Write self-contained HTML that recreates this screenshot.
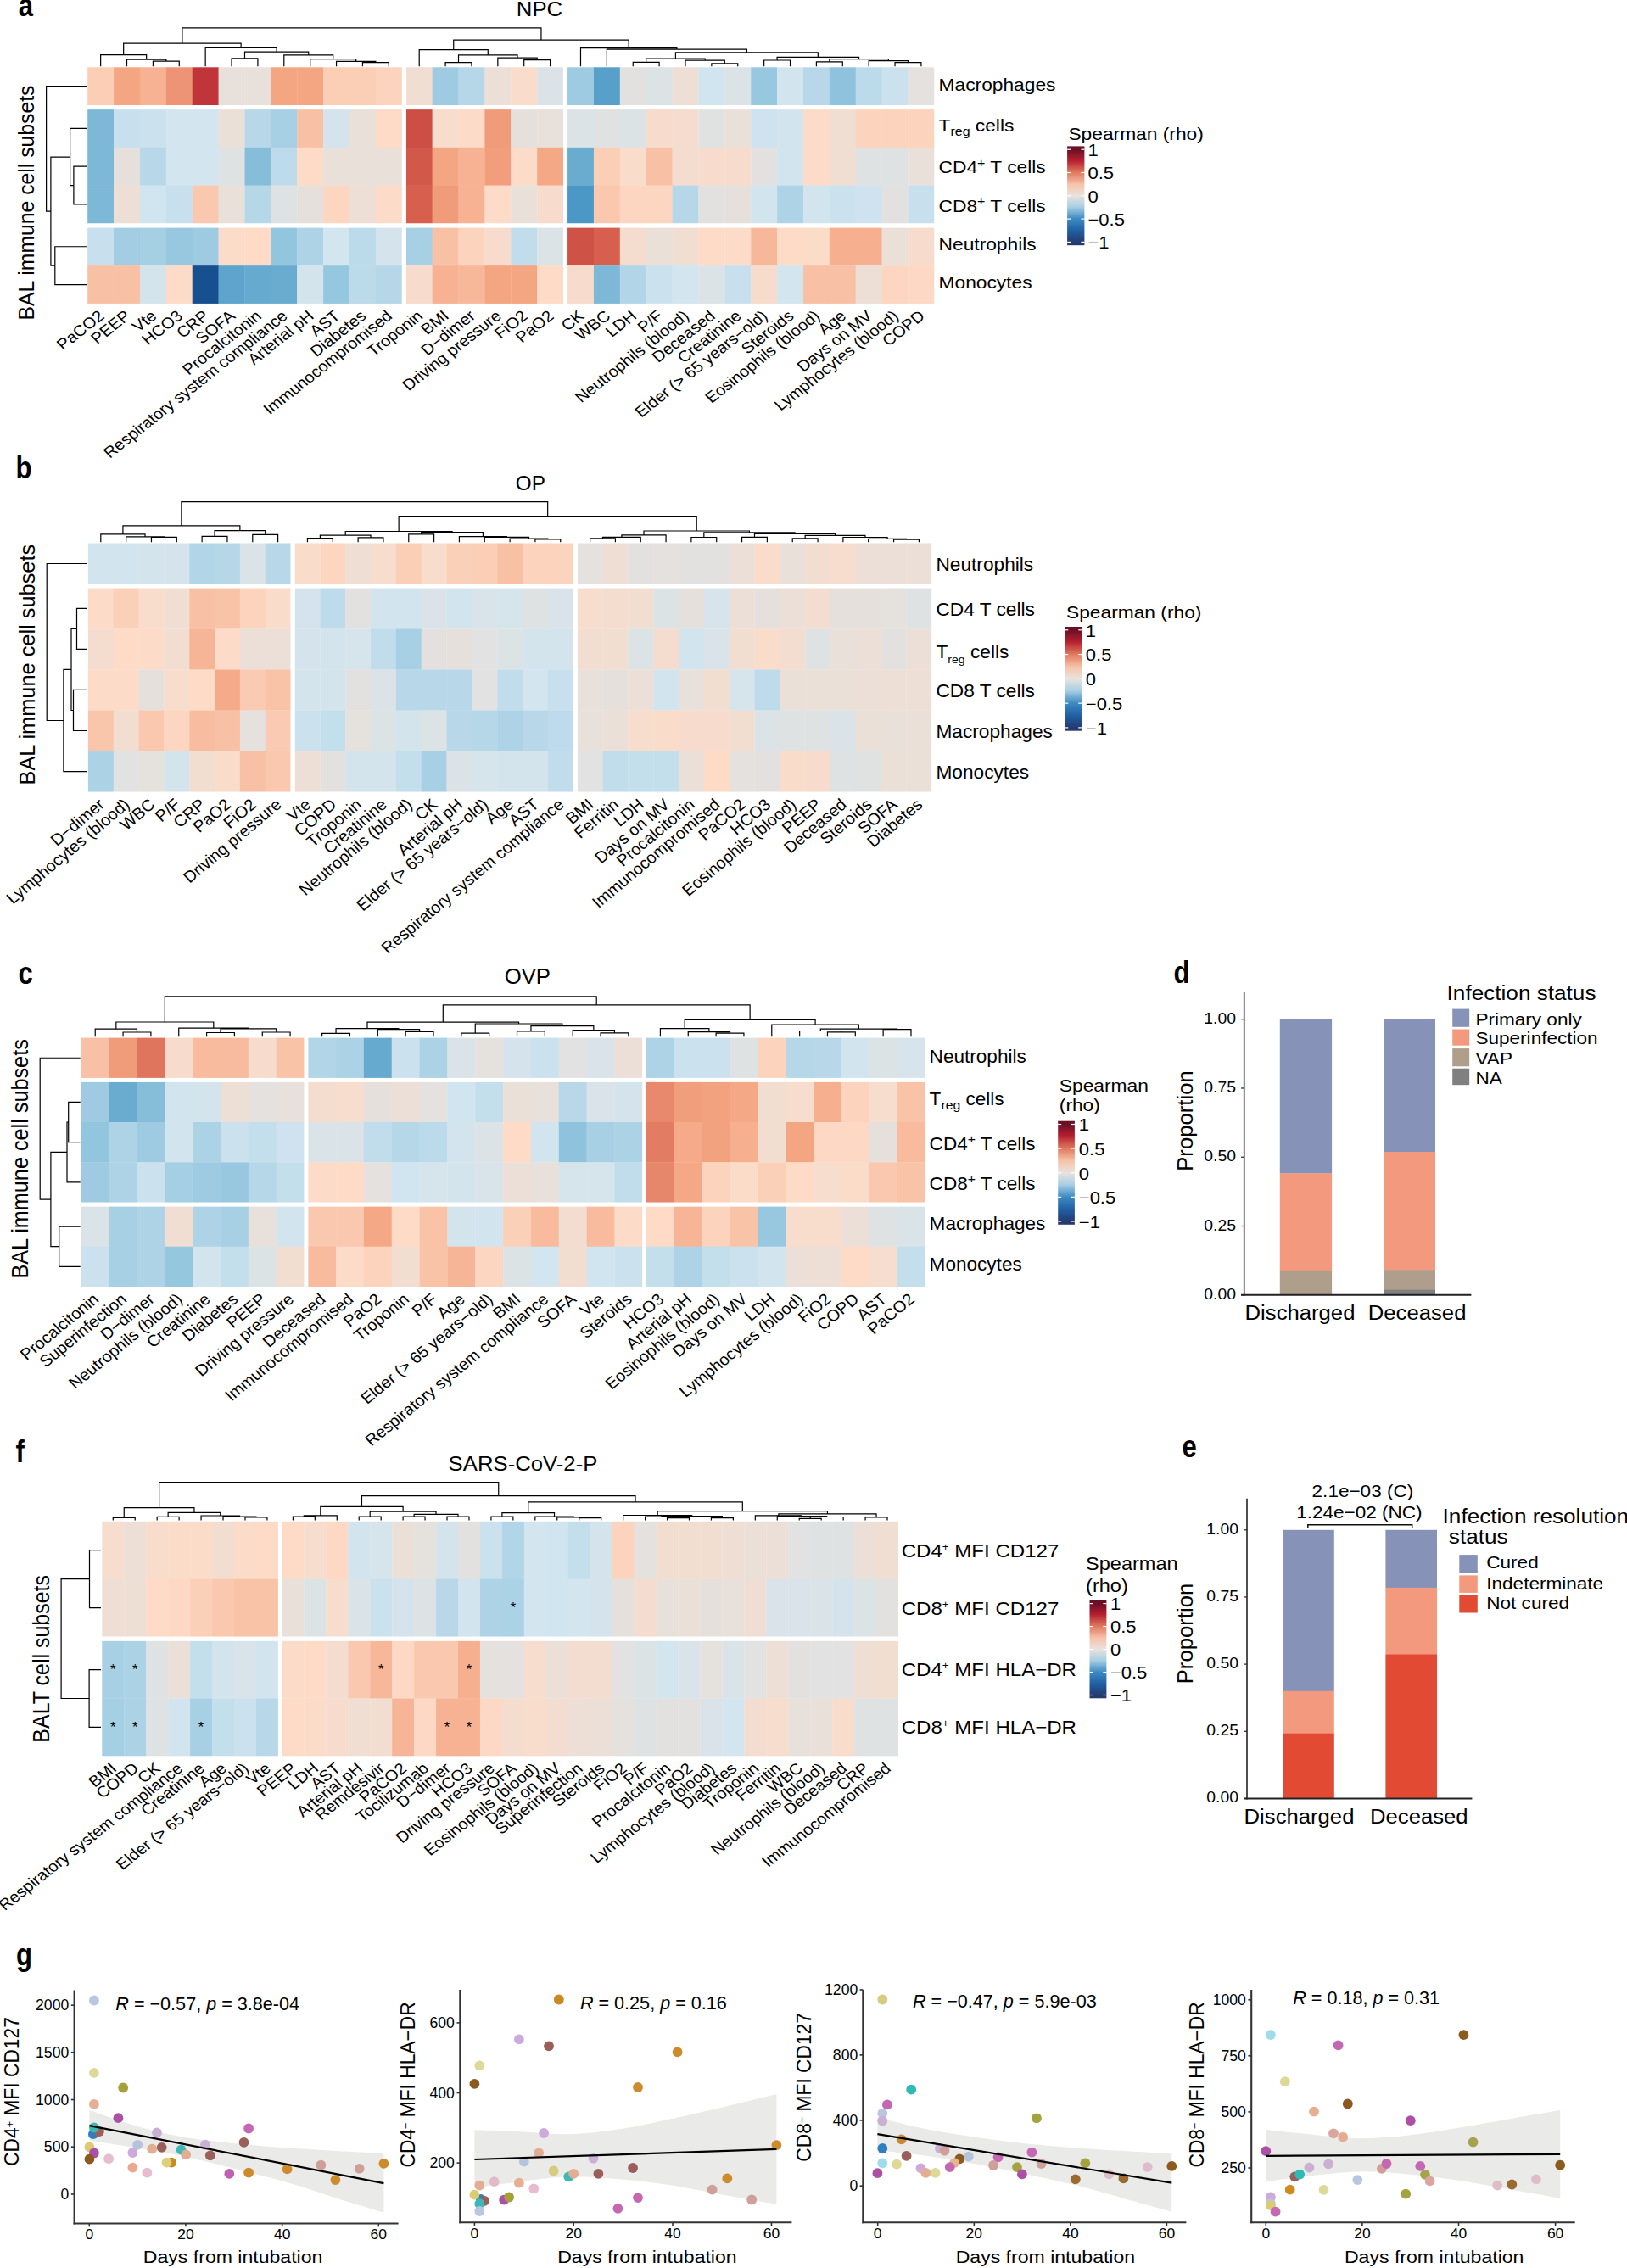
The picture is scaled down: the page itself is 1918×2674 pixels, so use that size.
<!DOCTYPE html>
<html><head><meta charset="utf-8"><title>Figure</title>
<style>html,body{margin:0;padding:0;background:#fff}svg{display:block}text{font-family:"Liberation Sans", Arial, Helvetica, sans-serif;}</style></head>
<body>
<svg width="1918" height="2674" viewBox="0 0 1918 2674" shape-rendering="auto">
<rect width="1918" height="2674" fill="#fff"/>
<rect x="103.2" y="79.3" width="31.18" height="45.07" fill="#FBCEB6"/>
<rect x="134.08" y="79.3" width="31.18" height="45.07" fill="#F4A582"/>
<rect x="164.96" y="79.3" width="31.18" height="45.07" fill="#F6B293"/>
<rect x="195.84" y="79.3" width="31.18" height="45.07" fill="#EC9475"/>
<rect x="226.72" y="79.3" width="31.18" height="45.07" fill="#C03539"/>
<rect x="257.6" y="79.3" width="31.18" height="45.07" fill="#E8E0DB"/>
<rect x="288.48" y="79.3" width="31.18" height="45.07" fill="#E8E0DB"/>
<rect x="319.36" y="79.3" width="31.18" height="45.07" fill="#F4A582"/>
<rect x="350.24" y="79.3" width="31.18" height="45.07" fill="#F4A582"/>
<rect x="381.12" y="79.3" width="31.18" height="45.07" fill="#FBCEB6"/>
<rect x="412" y="79.3" width="31.18" height="45.07" fill="#FBCEB6"/>
<rect x="442.88" y="79.3" width="31.18" height="45.07" fill="#FCD3BD"/>
<rect x="478.76" y="79.3" width="31.18" height="45.07" fill="#F0DED2"/>
<rect x="509.64" y="79.3" width="31.18" height="45.07" fill="#9FCBE2"/>
<rect x="540.52" y="79.3" width="31.18" height="45.07" fill="#B5D7E8"/>
<rect x="571.4" y="79.3" width="31.18" height="45.07" fill="#ECDFD7"/>
<rect x="602.28" y="79.3" width="31.18" height="45.07" fill="#F9DCCA"/>
<rect x="633.16" y="79.3" width="31.18" height="45.07" fill="#DBE3E6"/>
<rect x="669.04" y="79.3" width="31.18" height="45.07" fill="#9FCBE2"/>
<rect x="699.92" y="79.3" width="31.18" height="45.07" fill="#57A0CA"/>
<rect x="730.8" y="79.3" width="31.18" height="45.07" fill="#E3E1DF"/>
<rect x="761.68" y="79.3" width="31.18" height="45.07" fill="#DCE3E5"/>
<rect x="792.56" y="79.3" width="31.18" height="45.07" fill="#EDDFD6"/>
<rect x="823.44" y="79.3" width="31.18" height="45.07" fill="#D1E5F0"/>
<rect x="854.32" y="79.3" width="31.18" height="45.07" fill="#DBE3E6"/>
<rect x="885.2" y="79.3" width="31.18" height="45.07" fill="#98C8E0"/>
<rect x="916.08" y="79.3" width="31.18" height="45.07" fill="#D2E5EF"/>
<rect x="946.96" y="79.3" width="31.18" height="45.07" fill="#B8D8E9"/>
<rect x="977.84" y="79.3" width="31.18" height="45.07" fill="#8EC2DD"/>
<rect x="1008.72" y="79.3" width="31.18" height="45.07" fill="#BBDAEA"/>
<rect x="1039.6" y="79.3" width="31.18" height="45.07" fill="#CBE2EE"/>
<rect x="1070.48" y="79.3" width="31.18" height="45.07" fill="#E4E1DE"/>
<rect x="103.2" y="129.07" width="31.18" height="45.07" fill="#7EB8D7"/>
<rect x="134.08" y="129.07" width="31.18" height="45.07" fill="#C8E0ED"/>
<rect x="164.96" y="129.07" width="31.18" height="45.07" fill="#CBE2EE"/>
<rect x="195.84" y="129.07" width="31.18" height="45.07" fill="#D3E5EE"/>
<rect x="226.72" y="129.07" width="31.18" height="45.07" fill="#D3E5EE"/>
<rect x="257.6" y="129.07" width="31.18" height="45.07" fill="#EAE0D8"/>
<rect x="288.48" y="129.07" width="31.18" height="45.07" fill="#B8D8E9"/>
<rect x="319.36" y="129.07" width="31.18" height="45.07" fill="#A8D0E4"/>
<rect x="350.24" y="129.07" width="31.18" height="45.07" fill="#F8C0A4"/>
<rect x="381.12" y="129.07" width="31.18" height="45.07" fill="#D5E4EC"/>
<rect x="412" y="129.07" width="31.18" height="45.07" fill="#E9E0D9"/>
<rect x="442.88" y="129.07" width="31.18" height="45.07" fill="#FDDBC7"/>
<rect x="478.76" y="129.07" width="31.18" height="45.07" fill="#CD4E44"/>
<rect x="509.64" y="129.07" width="31.18" height="45.07" fill="#F6DDCE"/>
<rect x="540.52" y="129.07" width="31.18" height="45.07" fill="#FCDBC8"/>
<rect x="571.4" y="129.07" width="31.18" height="45.07" fill="#F09B7A"/>
<rect x="602.28" y="129.07" width="31.18" height="45.07" fill="#E6E0DC"/>
<rect x="633.16" y="129.07" width="31.18" height="45.07" fill="#E8E0DB"/>
<rect x="669.04" y="129.07" width="31.18" height="45.07" fill="#DBE3E6"/>
<rect x="699.92" y="129.07" width="31.18" height="45.07" fill="#E0E2E2"/>
<rect x="730.8" y="129.07" width="31.18" height="45.07" fill="#DCE3E5"/>
<rect x="761.68" y="129.07" width="31.18" height="45.07" fill="#F7DCCD"/>
<rect x="792.56" y="129.07" width="31.18" height="45.07" fill="#F4DDCF"/>
<rect x="823.44" y="129.07" width="31.18" height="45.07" fill="#E0E2E2"/>
<rect x="854.32" y="129.07" width="31.18" height="45.07" fill="#E9E0D9"/>
<rect x="885.2" y="129.07" width="31.18" height="45.07" fill="#CEE3EF"/>
<rect x="916.08" y="129.07" width="31.18" height="45.07" fill="#D2E5EF"/>
<rect x="946.96" y="129.07" width="31.18" height="45.07" fill="#FCDBC8"/>
<rect x="977.84" y="129.07" width="31.18" height="45.07" fill="#F0DED2"/>
<rect x="1008.72" y="129.07" width="31.18" height="45.07" fill="#FCD3BD"/>
<rect x="1039.6" y="129.07" width="31.18" height="45.07" fill="#FCD3BD"/>
<rect x="1070.48" y="129.07" width="31.18" height="45.07" fill="#FCD3BD"/>
<rect x="103.2" y="173.84" width="31.18" height="45.07" fill="#7EB8D7"/>
<rect x="134.08" y="173.84" width="31.18" height="45.07" fill="#E6E0DC"/>
<rect x="164.96" y="173.84" width="31.18" height="45.07" fill="#B8D8E9"/>
<rect x="195.84" y="173.84" width="31.18" height="45.07" fill="#D3E5EE"/>
<rect x="226.72" y="173.84" width="31.18" height="45.07" fill="#D3E5EE"/>
<rect x="257.6" y="173.84" width="31.18" height="45.07" fill="#DFE2E2"/>
<rect x="288.48" y="173.84" width="31.18" height="45.07" fill="#86BEDA"/>
<rect x="319.36" y="173.84" width="31.18" height="45.07" fill="#BEDBEB"/>
<rect x="350.24" y="173.84" width="31.18" height="45.07" fill="#FDDBC7"/>
<rect x="381.12" y="173.84" width="31.18" height="45.07" fill="#E9E0D9"/>
<rect x="412" y="173.84" width="31.18" height="45.07" fill="#E9E0D9"/>
<rect x="442.88" y="173.84" width="31.18" height="45.07" fill="#E9E0D9"/>
<rect x="478.76" y="173.84" width="31.18" height="45.07" fill="#D2594A"/>
<rect x="509.64" y="173.84" width="31.18" height="45.07" fill="#F4A582"/>
<rect x="540.52" y="173.84" width="31.18" height="45.07" fill="#F6B293"/>
<rect x="571.4" y="173.84" width="31.18" height="45.07" fill="#F19E7D"/>
<rect x="602.28" y="173.84" width="31.18" height="45.07" fill="#FCDBC8"/>
<rect x="633.16" y="173.84" width="31.18" height="45.07" fill="#F4A885"/>
<rect x="669.04" y="173.84" width="31.18" height="45.07" fill="#6AACD0"/>
<rect x="699.92" y="173.84" width="31.18" height="45.07" fill="#FBCEB6"/>
<rect x="730.8" y="173.84" width="31.18" height="45.07" fill="#F9DCCA"/>
<rect x="761.68" y="173.84" width="31.18" height="45.07" fill="#F8C0A4"/>
<rect x="792.56" y="173.84" width="31.18" height="45.07" fill="#F4DDCF"/>
<rect x="823.44" y="173.84" width="31.18" height="45.07" fill="#F7DCCD"/>
<rect x="854.32" y="173.84" width="31.18" height="45.07" fill="#F7DCCD"/>
<rect x="885.2" y="173.84" width="31.18" height="45.07" fill="#E3E1DF"/>
<rect x="916.08" y="173.84" width="31.18" height="45.07" fill="#D2E5EF"/>
<rect x="946.96" y="173.84" width="31.18" height="45.07" fill="#FCDBC8"/>
<rect x="977.84" y="173.84" width="31.18" height="45.07" fill="#F0DED2"/>
<rect x="1008.72" y="173.84" width="31.18" height="45.07" fill="#DFE2E2"/>
<rect x="1039.6" y="173.84" width="31.18" height="45.07" fill="#DFE2E2"/>
<rect x="1070.48" y="173.84" width="31.18" height="45.07" fill="#E9E0D9"/>
<rect x="103.2" y="218.61" width="31.18" height="45.07" fill="#7EB8D7"/>
<rect x="134.08" y="218.61" width="31.18" height="45.07" fill="#EDDFD6"/>
<rect x="164.96" y="218.61" width="31.18" height="45.07" fill="#D1E5F0"/>
<rect x="195.84" y="218.61" width="31.18" height="45.07" fill="#C8E0ED"/>
<rect x="226.72" y="218.61" width="31.18" height="45.07" fill="#FAC8AF"/>
<rect x="257.6" y="218.61" width="31.18" height="45.07" fill="#E9E0D9"/>
<rect x="288.48" y="218.61" width="31.18" height="45.07" fill="#B5D7E8"/>
<rect x="319.36" y="218.61" width="31.18" height="45.07" fill="#DEE2E3"/>
<rect x="350.24" y="218.61" width="31.18" height="45.07" fill="#E6E0DC"/>
<rect x="381.12" y="218.61" width="31.18" height="45.07" fill="#FCD6C0"/>
<rect x="412" y="218.61" width="31.18" height="45.07" fill="#EDDFD6"/>
<rect x="442.88" y="218.61" width="31.18" height="45.07" fill="#FCDBC8"/>
<rect x="478.76" y="218.61" width="31.18" height="45.07" fill="#D6604D"/>
<rect x="509.64" y="218.61" width="31.18" height="45.07" fill="#F09B7A"/>
<rect x="540.52" y="218.61" width="31.18" height="45.07" fill="#F6B293"/>
<rect x="571.4" y="218.61" width="31.18" height="45.07" fill="#FCDBC8"/>
<rect x="602.28" y="218.61" width="31.18" height="45.07" fill="#E9E0D9"/>
<rect x="633.16" y="218.61" width="31.18" height="45.07" fill="#F7DCCD"/>
<rect x="669.04" y="218.61" width="31.18" height="45.07" fill="#4B98C6"/>
<rect x="699.92" y="218.61" width="31.18" height="45.07" fill="#FAC8AF"/>
<rect x="730.8" y="218.61" width="31.18" height="45.07" fill="#FCD6C0"/>
<rect x="761.68" y="218.61" width="31.18" height="45.07" fill="#FCD6C0"/>
<rect x="792.56" y="218.61" width="31.18" height="45.07" fill="#B5D7E8"/>
<rect x="823.44" y="218.61" width="31.18" height="45.07" fill="#E3E1DF"/>
<rect x="854.32" y="218.61" width="31.18" height="45.07" fill="#E6E0DC"/>
<rect x="885.2" y="218.61" width="31.18" height="45.07" fill="#D2E5EF"/>
<rect x="916.08" y="218.61" width="31.18" height="45.07" fill="#AED3E6"/>
<rect x="946.96" y="218.61" width="31.18" height="45.07" fill="#D2E5EF"/>
<rect x="977.84" y="218.61" width="31.18" height="45.07" fill="#CBE2EE"/>
<rect x="1008.72" y="218.61" width="31.18" height="45.07" fill="#CEE3EF"/>
<rect x="1039.6" y="218.61" width="31.18" height="45.07" fill="#E3E1DF"/>
<rect x="1070.48" y="218.61" width="31.18" height="45.07" fill="#C8E0ED"/>
<rect x="103.2" y="268.38" width="31.18" height="45.07" fill="#C8E0ED"/>
<rect x="134.08" y="268.38" width="31.18" height="45.07" fill="#A2CDE2"/>
<rect x="164.96" y="268.38" width="31.18" height="45.07" fill="#A5CFE3"/>
<rect x="195.84" y="268.38" width="31.18" height="45.07" fill="#98C8E0"/>
<rect x="226.72" y="268.38" width="31.18" height="45.07" fill="#9FCBE2"/>
<rect x="257.6" y="268.38" width="31.18" height="45.07" fill="#FADCC9"/>
<rect x="288.48" y="268.38" width="31.18" height="45.07" fill="#FDDBC7"/>
<rect x="319.36" y="268.38" width="31.18" height="45.07" fill="#92C5DE"/>
<rect x="350.24" y="268.38" width="31.18" height="45.07" fill="#AED3E6"/>
<rect x="381.12" y="268.38" width="31.18" height="45.07" fill="#D3E5EE"/>
<rect x="412" y="268.38" width="31.18" height="45.07" fill="#BBDAEA"/>
<rect x="442.88" y="268.38" width="31.18" height="45.07" fill="#D5E4EC"/>
<rect x="478.76" y="268.38" width="31.18" height="45.07" fill="#A8D0E4"/>
<rect x="509.64" y="268.38" width="31.18" height="45.07" fill="#F8C0A4"/>
<rect x="540.52" y="268.38" width="31.18" height="45.07" fill="#FCD3BD"/>
<rect x="571.4" y="268.38" width="31.18" height="45.07" fill="#F7DCCD"/>
<rect x="602.28" y="268.38" width="31.18" height="45.07" fill="#C1DDEC"/>
<rect x="633.16" y="268.38" width="31.18" height="45.07" fill="#DBE3E6"/>
<rect x="669.04" y="268.38" width="31.18" height="45.07" fill="#CF5246"/>
<rect x="699.92" y="268.38" width="31.18" height="45.07" fill="#D6604D"/>
<rect x="730.8" y="268.38" width="31.18" height="45.07" fill="#F4DDCF"/>
<rect x="761.68" y="268.38" width="31.18" height="45.07" fill="#EAE0D8"/>
<rect x="792.56" y="268.38" width="31.18" height="45.07" fill="#F0DED2"/>
<rect x="823.44" y="268.38" width="31.18" height="45.07" fill="#FDDBC7"/>
<rect x="854.32" y="268.38" width="31.18" height="45.07" fill="#FCDBC8"/>
<rect x="885.2" y="268.38" width="31.18" height="45.07" fill="#F7B89A"/>
<rect x="916.08" y="268.38" width="31.18" height="45.07" fill="#FDDBC7"/>
<rect x="946.96" y="268.38" width="31.18" height="45.07" fill="#FADCC9"/>
<rect x="977.84" y="268.38" width="31.18" height="45.07" fill="#F6B090"/>
<rect x="1008.72" y="268.38" width="31.18" height="45.07" fill="#F6B090"/>
<rect x="1039.6" y="268.38" width="31.18" height="45.07" fill="#EAE0D8"/>
<rect x="1070.48" y="268.38" width="31.18" height="45.07" fill="#F7DCCD"/>
<rect x="103.2" y="313.15" width="31.18" height="45.07" fill="#F8C0A4"/>
<rect x="134.08" y="313.15" width="31.18" height="45.07" fill="#F8C0A4"/>
<rect x="164.96" y="313.15" width="31.18" height="45.07" fill="#D4E4ED"/>
<rect x="195.84" y="313.15" width="31.18" height="45.07" fill="#FCDBC8"/>
<rect x="226.72" y="313.15" width="31.18" height="45.07" fill="#16508E"/>
<rect x="257.6" y="313.15" width="31.18" height="45.07" fill="#5FA4CC"/>
<rect x="288.48" y="313.15" width="31.18" height="45.07" fill="#67AACF"/>
<rect x="319.36" y="313.15" width="31.18" height="45.07" fill="#6AACD0"/>
<rect x="350.24" y="313.15" width="31.18" height="45.07" fill="#D4E4ED"/>
<rect x="381.12" y="313.15" width="31.18" height="45.07" fill="#95C7DF"/>
<rect x="412" y="313.15" width="31.18" height="45.07" fill="#BBDAEA"/>
<rect x="442.88" y="313.15" width="31.18" height="45.07" fill="#B5D7E8"/>
<rect x="478.76" y="313.15" width="31.18" height="45.07" fill="#F7DCCD"/>
<rect x="509.64" y="313.15" width="31.18" height="45.07" fill="#F6B293"/>
<rect x="540.52" y="313.15" width="31.18" height="45.07" fill="#F7B89A"/>
<rect x="571.4" y="313.15" width="31.18" height="45.07" fill="#F4A582"/>
<rect x="602.28" y="313.15" width="31.18" height="45.07" fill="#F4A582"/>
<rect x="633.16" y="313.15" width="31.18" height="45.07" fill="#FDDBC7"/>
<rect x="669.04" y="313.15" width="31.18" height="45.07" fill="#F7DCCD"/>
<rect x="699.92" y="313.15" width="31.18" height="45.07" fill="#7EB8D7"/>
<rect x="730.8" y="313.15" width="31.18" height="45.07" fill="#B2D5E7"/>
<rect x="761.68" y="313.15" width="31.18" height="45.07" fill="#CBE2EE"/>
<rect x="792.56" y="313.15" width="31.18" height="45.07" fill="#D3E5EE"/>
<rect x="823.44" y="313.15" width="31.18" height="45.07" fill="#DBE3E6"/>
<rect x="854.32" y="313.15" width="31.18" height="45.07" fill="#C8E0ED"/>
<rect x="885.2" y="313.15" width="31.18" height="45.07" fill="#F7DCCD"/>
<rect x="916.08" y="313.15" width="31.18" height="45.07" fill="#D3E5EE"/>
<rect x="946.96" y="313.15" width="31.18" height="45.07" fill="#F8C0A4"/>
<rect x="977.84" y="313.15" width="31.18" height="45.07" fill="#F8C0A4"/>
<rect x="1008.72" y="313.15" width="31.18" height="45.07" fill="#EDDFD6"/>
<rect x="1039.6" y="313.15" width="31.18" height="45.07" fill="#FCD6C0"/>
<rect x="1070.48" y="313.15" width="31.18" height="45.07" fill="#FDD8C4"/>
<rect x="473.76" y="78.3" width="5" height="280.62" fill="#fff"/>
<rect x="664.04" y="78.3" width="5" height="280.62" fill="#fff"/>
<rect x="102.2" y="124.07" width="1000.16" height="5" fill="#fff"/>
<rect x="102.2" y="263.38" width="1000.16" height="5" fill="#fff"/>
<rect x="1101.36" y="78.3" width="2" height="280.62" fill="#fff"/>
<rect x="102.2" y="357.92" width="1001.16" height="2" fill="#fff"/>
<path d="M180.4 77.6V72.2H211.28V77.6M149.52 77.6V70.2H195.84V72.2M118.64 77.6V64.6H172.68V70.2M273.04 77.6V68.8H303.92V77.6M427.44 77.6V73.7H458.32V77.6M396.56 77.6V72.4H442.88V73.7M365.68 77.6V69.7H419.72V72.4M334.8 77.6V64.8H392.7V69.7M288.48 68.8V61.1H363.75V64.8M242.16 77.6V56.5H326.12V61.1M145.66 64.6V51.1H284.14V56.5M525.08 77.6V73.7H555.96V77.6M617.72 77.6V70.7H648.6V77.6M586.84 77.6V68.2H633.16V70.7M540.52 73.7V64.8H610V68.2M494.2 77.6V58.7H575.26V64.8M746.24 77.6V73.4H777.12V77.6M838.88 77.6V74.9H869.76V77.6M808 77.6V71.2H854.32V74.9M761.68 73.4V69.2H831.16V71.2M900.64 77.6V71H931.52V77.6M962.4 77.6V72.9H993.28V77.6M1055.04 77.6V73.7H1085.92V77.6M1024.16 77.6V71.7H1070.48V73.7M977.84 72.9V69.7H1047.32V71.7M916.08 71V67.3H1012.58V69.7M796.42 69.2V61.9H964.33V67.3M715.36 77.6V58.2H880.38V61.9M684.48 77.6V56.7H797.87V58.2M534.73 58.7V47.1H741.17V56.7M214.9 51.1V32.9H637.95V47.1" stroke="#000" stroke-width="1.2" fill="none" stroke-linejoin="miter" stroke-linecap="square"/>
<path d="M101.5 196.22H86.9V241H101.5M101.5 151.45H82.6V218.61H86.9M101.5 290.76H64.8V335.53H101.5M82.6 185.03H59.9V313.15H64.8M101.5 101.69H54.6V249.09H59.9" stroke="#000" stroke-width="1.2" fill="none" stroke-linejoin="miter" stroke-linecap="square"/>
<text transform="translate(124.14,374.22) scale(1.1,1) rotate(-41)" font-size="18.3" text-anchor="end">PaCO2</text>
<text transform="translate(155.02,374.22) scale(1.1,1) rotate(-41)" font-size="18.3" text-anchor="end">PEEP</text>
<text transform="translate(185.9,374.22) scale(1.1,1) rotate(-41)" font-size="18.3" text-anchor="end">Vte</text>
<text transform="translate(216.78,374.22) scale(1.1,1) rotate(-41)" font-size="18.3" text-anchor="end">HCO3</text>
<text transform="translate(247.66,374.22) scale(1.1,1) rotate(-41)" font-size="18.3" text-anchor="end">CRP</text>
<text transform="translate(278.54,374.22) scale(1.1,1) rotate(-41)" font-size="18.3" text-anchor="end">SOFA</text>
<text transform="translate(309.42,374.22) scale(1.1,1) rotate(-41)" font-size="18.3" text-anchor="end">Procalcitonin</text>
<text transform="translate(340.3,374.22) scale(1.1,1) rotate(-41)" font-size="18.3" text-anchor="end">Respiratory system compliance</text>
<text transform="translate(371.18,374.22) scale(1.1,1) rotate(-41)" font-size="18.3" text-anchor="end">Arterial pH</text>
<text transform="translate(402.06,374.22) scale(1.1,1) rotate(-41)" font-size="18.3" text-anchor="end">AST</text>
<text transform="translate(432.94,374.22) scale(1.1,1) rotate(-41)" font-size="18.3" text-anchor="end">Diabetes</text>
<text transform="translate(463.82,374.22) scale(1.1,1) rotate(-41)" font-size="18.3" text-anchor="end">Immunocompromised</text>
<text transform="translate(499.7,374.22) scale(1.1,1) rotate(-41)" font-size="18.3" text-anchor="end">Troponin</text>
<text transform="translate(530.58,374.22) scale(1.1,1) rotate(-41)" font-size="18.3" text-anchor="end">BMI</text>
<text transform="translate(561.46,374.22) scale(1.1,1) rotate(-41)" font-size="18.3" text-anchor="end">D−dimer</text>
<text transform="translate(592.34,374.22) scale(1.1,1) rotate(-41)" font-size="18.3" text-anchor="end">Driving pressure</text>
<text transform="translate(623.22,374.22) scale(1.1,1) rotate(-41)" font-size="18.3" text-anchor="end">FiO2</text>
<text transform="translate(654.1,374.22) scale(1.1,1) rotate(-41)" font-size="18.3" text-anchor="end">PaO2</text>
<text transform="translate(689.98,374.22) scale(1.1,1) rotate(-41)" font-size="18.3" text-anchor="end">CK</text>
<text transform="translate(720.86,374.22) scale(1.1,1) rotate(-41)" font-size="18.3" text-anchor="end">WBC</text>
<text transform="translate(751.74,374.22) scale(1.1,1) rotate(-41)" font-size="18.3" text-anchor="end">LDH</text>
<text transform="translate(782.62,374.22) scale(1.1,1) rotate(-41)" font-size="18.3" text-anchor="end">P/F</text>
<text transform="translate(813.5,374.22) scale(1.1,1) rotate(-41)" font-size="18.3" text-anchor="end">Neutrophils (blood)</text>
<text transform="translate(844.38,374.22) scale(1.1,1) rotate(-41)" font-size="18.3" text-anchor="end">Deceased</text>
<text transform="translate(875.26,374.22) scale(1.1,1) rotate(-41)" font-size="18.3" text-anchor="end">Creatinine</text>
<text transform="translate(906.14,374.22) scale(1.1,1) rotate(-41)" font-size="18.3" text-anchor="end">Elder (&gt; 65 years−old)</text>
<text transform="translate(937.02,374.22) scale(1.1,1) rotate(-41)" font-size="18.3" text-anchor="end">Steroids</text>
<text transform="translate(967.9,374.22) scale(1.1,1) rotate(-41)" font-size="18.3" text-anchor="end">Eosinophils (blood)</text>
<text transform="translate(998.78,374.22) scale(1.1,1) rotate(-41)" font-size="18.3" text-anchor="end">Age</text>
<text transform="translate(1029.66,374.22) scale(1.1,1) rotate(-41)" font-size="18.3" text-anchor="end">Days on MV</text>
<text transform="translate(1060.54,374.22) scale(1.1,1) rotate(-41)" font-size="18.3" text-anchor="end">Lymphocytes (blood)</text>
<text transform="translate(1091.42,374.22) scale(1.1,1) rotate(-41)" font-size="18.3" text-anchor="end">COPD</text>
<text transform="translate(1106.56,107) scale(1.1,1)" font-size="20.7">Macrophages</text>
<text transform="translate(1106.56,155.2) scale(1.1,1)" font-size="20.7">T<tspan font-size="14.49" dy="5">reg</tspan><tspan dy="-5"> cells</tspan></text>
<text transform="translate(1106.56,204.4) scale(1.1,1)" font-size="20.7">CD4<tspan font-size="14.49" dy="-7.5">+</tspan><tspan dy="7.5"> T cells</tspan></text>
<text transform="translate(1106.56,249.5) scale(1.1,1)" font-size="20.7">CD8<tspan font-size="14.49" dy="-7.5">+</tspan><tspan dy="7.5"> T cells</tspan></text>
<text transform="translate(1106.56,295) scale(1.1,1)" font-size="20.7">Neutrophils</text>
<text transform="translate(1106.56,340) scale(1.1,1)" font-size="20.7">Monocytes</text>
<text transform="translate(39.6,239) scale(1.06,1) rotate(-90)" font-size="24.75" text-anchor="middle">BAL immune cell subsets</text>
<text transform="translate(1259.4,165.2) scale(1.1,1)" font-size="20.7">Spearman (rho)</text>
<defs><linearGradient id="g176" gradientUnits="userSpaceOnUse" x1="0" y1="176.2" x2="0" y2="285.4"><stop offset="0" stop-color="#6B0F25"/><stop offset="0.12" stop-color="#B5202F"/><stop offset="0.25" stop-color="#E07A60"/><stop offset="0.38" stop-color="#F7C4AB"/><stop offset="0.5" stop-color="#E8E2DE"/><stop offset="0.62" stop-color="#A9CFE4"/><stop offset="0.75" stop-color="#3C8AC2"/><stop offset="0.88" stop-color="#205EA3"/><stop offset="1" stop-color="#253B70"/></linearGradient></defs>
<rect x="1258.1" y="172.4" width="20.3" height="116.8" fill="url(#g176)"/>
<line x1="1258.1" y1="176.2" x2="1262.1" y2="176.2" stroke="#fff" stroke-width="1.2" stroke-linecap="butt"/>
<line x1="1274.4" y1="176.2" x2="1278.4" y2="176.2" stroke="#fff" stroke-width="1.2" stroke-linecap="butt"/>
<text transform="translate(1282.5,184) scale(1.1,1)" font-size="20">1</text>
<line x1="1258.1" y1="203.5" x2="1262.1" y2="203.5" stroke="#fff" stroke-width="1.2" stroke-linecap="butt"/>
<line x1="1274.4" y1="203.5" x2="1278.4" y2="203.5" stroke="#fff" stroke-width="1.2" stroke-linecap="butt"/>
<text transform="translate(1282.5,211.3) scale(1.1,1)" font-size="20">0.5</text>
<line x1="1258.1" y1="230.8" x2="1262.1" y2="230.8" stroke="#fff" stroke-width="1.2" stroke-linecap="butt"/>
<line x1="1274.4" y1="230.8" x2="1278.4" y2="230.8" stroke="#fff" stroke-width="1.2" stroke-linecap="butt"/>
<text transform="translate(1282.5,238.6) scale(1.1,1)" font-size="20">0</text>
<line x1="1258.1" y1="258.1" x2="1262.1" y2="258.1" stroke="#fff" stroke-width="1.2" stroke-linecap="butt"/>
<line x1="1274.4" y1="258.1" x2="1278.4" y2="258.1" stroke="#fff" stroke-width="1.2" stroke-linecap="butt"/>
<text transform="translate(1282.5,265.9) scale(1.1,1)" font-size="20">−0.5</text>
<line x1="1258.1" y1="285.4" x2="1262.1" y2="285.4" stroke="#fff" stroke-width="1.2" stroke-linecap="butt"/>
<line x1="1274.4" y1="285.4" x2="1278.4" y2="285.4" stroke="#fff" stroke-width="1.2" stroke-linecap="butt"/>
<text transform="translate(1282.5,293.2) scale(1.1,1)" font-size="20">−1</text>
<text transform="translate(636,19.4) scale(1.11,1)" font-size="23.2" text-anchor="middle">NPC</text>
<text transform="translate(21.7,19.3) scale(0.84,1)" font-size="37" font-weight="bold">a</text>
<rect x="103.9" y="640.5" width="30.13" height="48.35" fill="#D2E5EF"/>
<rect x="133.73" y="640.5" width="30.13" height="48.35" fill="#D2E5EF"/>
<rect x="163.56" y="640.5" width="30.13" height="48.35" fill="#D4E4ED"/>
<rect x="193.39" y="640.5" width="30.13" height="48.35" fill="#D5E4EC"/>
<rect x="223.22" y="640.5" width="30.13" height="48.35" fill="#B2D5E7"/>
<rect x="253.05" y="640.5" width="30.13" height="48.35" fill="#B5D7E8"/>
<rect x="282.88" y="640.5" width="30.13" height="48.35" fill="#DAE3E7"/>
<rect x="312.71" y="640.5" width="30.13" height="48.35" fill="#B8D8E9"/>
<rect x="347.54" y="640.5" width="30.13" height="48.35" fill="#F9DCCA"/>
<rect x="377.37" y="640.5" width="30.13" height="48.35" fill="#FCD6C0"/>
<rect x="407.2" y="640.5" width="30.13" height="48.35" fill="#EFDED4"/>
<rect x="437.03" y="640.5" width="30.13" height="48.35" fill="#F6DDCE"/>
<rect x="466.86" y="640.5" width="30.13" height="48.35" fill="#FBCEB6"/>
<rect x="496.69" y="640.5" width="30.13" height="48.35" fill="#F8DCCC"/>
<rect x="526.52" y="640.5" width="30.13" height="48.35" fill="#FBD0B9"/>
<rect x="556.35" y="640.5" width="30.13" height="48.35" fill="#FBCEB6"/>
<rect x="586.18" y="640.5" width="30.13" height="48.35" fill="#F8C0A4"/>
<rect x="616.01" y="640.5" width="30.13" height="48.35" fill="#FCD3BD"/>
<rect x="645.84" y="640.5" width="30.13" height="48.35" fill="#FCD3BD"/>
<rect x="680.67" y="640.5" width="30.13" height="48.35" fill="#E4E1DE"/>
<rect x="710.5" y="640.5" width="30.13" height="48.35" fill="#EFDED4"/>
<rect x="740.33" y="640.5" width="30.13" height="48.35" fill="#E2E1E0"/>
<rect x="770.16" y="640.5" width="30.13" height="48.35" fill="#E4E1DE"/>
<rect x="799.99" y="640.5" width="30.13" height="48.35" fill="#E2E1E0"/>
<rect x="829.82" y="640.5" width="30.13" height="48.35" fill="#E2E1E0"/>
<rect x="859.65" y="640.5" width="30.13" height="48.35" fill="#ECDFD7"/>
<rect x="889.48" y="640.5" width="30.13" height="48.35" fill="#F9DCCA"/>
<rect x="919.31" y="640.5" width="30.13" height="48.35" fill="#E9E0D9"/>
<rect x="949.14" y="640.5" width="30.13" height="48.35" fill="#F2DED1"/>
<rect x="978.97" y="640.5" width="30.13" height="48.35" fill="#F6DDCE"/>
<rect x="1008.8" y="640.5" width="30.13" height="48.35" fill="#ECDFD7"/>
<rect x="1038.63" y="640.5" width="30.13" height="48.35" fill="#ECDFD7"/>
<rect x="1068.46" y="640.5" width="30.13" height="48.35" fill="#ECDFD7"/>
<rect x="103.9" y="693.35" width="30.13" height="48.35" fill="#FCDBC8"/>
<rect x="133.73" y="693.35" width="30.13" height="48.35" fill="#FBD0B9"/>
<rect x="163.56" y="693.35" width="30.13" height="48.35" fill="#F8DCCC"/>
<rect x="193.39" y="693.35" width="30.13" height="48.35" fill="#F0DED2"/>
<rect x="223.22" y="693.35" width="30.13" height="48.35" fill="#F8C0A4"/>
<rect x="253.05" y="693.35" width="30.13" height="48.35" fill="#F9C3A8"/>
<rect x="282.88" y="693.35" width="30.13" height="48.35" fill="#FCD3BD"/>
<rect x="312.71" y="693.35" width="30.13" height="48.35" fill="#F9DCCA"/>
<rect x="347.54" y="693.35" width="30.13" height="48.35" fill="#D5E4EC"/>
<rect x="377.37" y="693.35" width="30.13" height="48.35" fill="#BEDBEB"/>
<rect x="407.2" y="693.35" width="30.13" height="48.35" fill="#E3E1DF"/>
<rect x="437.03" y="693.35" width="30.13" height="48.35" fill="#D2E5EF"/>
<rect x="466.86" y="693.35" width="30.13" height="48.35" fill="#D2E5EF"/>
<rect x="496.69" y="693.35" width="30.13" height="48.35" fill="#D9E3E9"/>
<rect x="526.52" y="693.35" width="30.13" height="48.35" fill="#D2E5EF"/>
<rect x="556.35" y="693.35" width="30.13" height="48.35" fill="#D8E4EA"/>
<rect x="586.18" y="693.35" width="30.13" height="48.35" fill="#D6E4EC"/>
<rect x="616.01" y="693.35" width="30.13" height="48.35" fill="#DFE2E2"/>
<rect x="645.84" y="693.35" width="30.13" height="48.35" fill="#D9E3E9"/>
<rect x="680.67" y="693.35" width="30.13" height="48.35" fill="#F6DDCE"/>
<rect x="710.5" y="693.35" width="30.13" height="48.35" fill="#F4DDCF"/>
<rect x="740.33" y="693.35" width="30.13" height="48.35" fill="#F2DED1"/>
<rect x="770.16" y="693.35" width="30.13" height="48.35" fill="#DCE3E5"/>
<rect x="799.99" y="693.35" width="30.13" height="48.35" fill="#E6E0DC"/>
<rect x="829.82" y="693.35" width="30.13" height="48.35" fill="#D7E4EB"/>
<rect x="859.65" y="693.35" width="30.13" height="48.35" fill="#ECDFD7"/>
<rect x="889.48" y="693.35" width="30.13" height="48.35" fill="#E6E0DC"/>
<rect x="919.31" y="693.35" width="30.13" height="48.35" fill="#ECDFD7"/>
<rect x="949.14" y="693.35" width="30.13" height="48.35" fill="#F3DDD0"/>
<rect x="978.97" y="693.35" width="30.13" height="48.35" fill="#E6E0DC"/>
<rect x="1008.8" y="693.35" width="30.13" height="48.35" fill="#E6E0DC"/>
<rect x="1038.63" y="693.35" width="30.13" height="48.35" fill="#E5E1DD"/>
<rect x="1068.46" y="693.35" width="30.13" height="48.35" fill="#DFE2E2"/>
<rect x="103.9" y="741.4" width="30.13" height="48.35" fill="#F4DDCF"/>
<rect x="133.73" y="741.4" width="30.13" height="48.35" fill="#FDDBC7"/>
<rect x="163.56" y="741.4" width="30.13" height="48.35" fill="#FCDBC8"/>
<rect x="193.39" y="741.4" width="30.13" height="48.35" fill="#F2DED1"/>
<rect x="223.22" y="741.4" width="30.13" height="48.35" fill="#F7B597"/>
<rect x="253.05" y="741.4" width="30.13" height="48.35" fill="#FCDBC8"/>
<rect x="282.88" y="741.4" width="30.13" height="48.35" fill="#ECDFD7"/>
<rect x="312.71" y="741.4" width="30.13" height="48.35" fill="#ECDFD7"/>
<rect x="347.54" y="741.4" width="30.13" height="48.35" fill="#D5E4EC"/>
<rect x="377.37" y="741.4" width="30.13" height="48.35" fill="#D4E4ED"/>
<rect x="407.2" y="741.4" width="30.13" height="48.35" fill="#D6E4EC"/>
<rect x="437.03" y="741.4" width="30.13" height="48.35" fill="#C1DDEC"/>
<rect x="466.86" y="741.4" width="30.13" height="48.35" fill="#A8D0E4"/>
<rect x="496.69" y="741.4" width="30.13" height="48.35" fill="#E3E1DF"/>
<rect x="526.52" y="741.4" width="30.13" height="48.35" fill="#E6E0DC"/>
<rect x="556.35" y="741.4" width="30.13" height="48.35" fill="#E1E2E1"/>
<rect x="586.18" y="741.4" width="30.13" height="48.35" fill="#DCE3E5"/>
<rect x="616.01" y="741.4" width="30.13" height="48.35" fill="#D4E4ED"/>
<rect x="645.84" y="741.4" width="30.13" height="48.35" fill="#D4E4ED"/>
<rect x="680.67" y="741.4" width="30.13" height="48.35" fill="#F2DED1"/>
<rect x="710.5" y="741.4" width="30.13" height="48.35" fill="#F2DED1"/>
<rect x="740.33" y="741.4" width="30.13" height="48.35" fill="#DCE3E5"/>
<rect x="770.16" y="741.4" width="30.13" height="48.35" fill="#F4DDCF"/>
<rect x="799.99" y="741.4" width="30.13" height="48.35" fill="#D2E5EF"/>
<rect x="829.82" y="741.4" width="30.13" height="48.35" fill="#D9E3E9"/>
<rect x="859.65" y="741.4" width="30.13" height="48.35" fill="#F2DED1"/>
<rect x="889.48" y="741.4" width="30.13" height="48.35" fill="#F9DCCA"/>
<rect x="919.31" y="741.4" width="30.13" height="48.35" fill="#F3DDD0"/>
<rect x="949.14" y="741.4" width="30.13" height="48.35" fill="#DFE2E2"/>
<rect x="978.97" y="741.4" width="30.13" height="48.35" fill="#E9E0D9"/>
<rect x="1008.8" y="741.4" width="30.13" height="48.35" fill="#ECDFD7"/>
<rect x="1038.63" y="741.4" width="30.13" height="48.35" fill="#E3E1DF"/>
<rect x="1068.46" y="741.4" width="30.13" height="48.35" fill="#ECDFD7"/>
<rect x="103.9" y="789.45" width="30.13" height="48.35" fill="#FCDBC8"/>
<rect x="133.73" y="789.45" width="30.13" height="48.35" fill="#FCDBC8"/>
<rect x="163.56" y="789.45" width="30.13" height="48.35" fill="#E6E0DC"/>
<rect x="193.39" y="789.45" width="30.13" height="48.35" fill="#F8DCCC"/>
<rect x="223.22" y="789.45" width="30.13" height="48.35" fill="#FDDBC7"/>
<rect x="253.05" y="789.45" width="30.13" height="48.35" fill="#F5AA89"/>
<rect x="282.88" y="789.45" width="30.13" height="48.35" fill="#FACBB2"/>
<rect x="312.71" y="789.45" width="30.13" height="48.35" fill="#F9C3A8"/>
<rect x="347.54" y="789.45" width="30.13" height="48.35" fill="#D4E4ED"/>
<rect x="377.37" y="789.45" width="30.13" height="48.35" fill="#D4E4ED"/>
<rect x="407.2" y="789.45" width="30.13" height="48.35" fill="#E3E1DF"/>
<rect x="437.03" y="789.45" width="30.13" height="48.35" fill="#DBE3E6"/>
<rect x="466.86" y="789.45" width="30.13" height="48.35" fill="#B8D8E9"/>
<rect x="496.69" y="789.45" width="30.13" height="48.35" fill="#B8D8E9"/>
<rect x="526.52" y="789.45" width="30.13" height="48.35" fill="#B8D8E9"/>
<rect x="556.35" y="789.45" width="30.13" height="48.35" fill="#E1E2E1"/>
<rect x="586.18" y="789.45" width="30.13" height="48.35" fill="#C1DDEC"/>
<rect x="616.01" y="789.45" width="30.13" height="48.35" fill="#D3E5EE"/>
<rect x="645.84" y="789.45" width="30.13" height="48.35" fill="#C8E0ED"/>
<rect x="680.67" y="789.45" width="30.13" height="48.35" fill="#E8E0DB"/>
<rect x="710.5" y="789.45" width="30.13" height="48.35" fill="#E6E0DC"/>
<rect x="740.33" y="789.45" width="30.13" height="48.35" fill="#ECDFD7"/>
<rect x="770.16" y="789.45" width="30.13" height="48.35" fill="#D2E5EF"/>
<rect x="799.99" y="789.45" width="30.13" height="48.35" fill="#E8E0DB"/>
<rect x="829.82" y="789.45" width="30.13" height="48.35" fill="#F2DED1"/>
<rect x="859.65" y="789.45" width="30.13" height="48.35" fill="#D6E4EC"/>
<rect x="889.48" y="789.45" width="30.13" height="48.35" fill="#BEDBEB"/>
<rect x="919.31" y="789.45" width="30.13" height="48.35" fill="#EAE0D8"/>
<rect x="949.14" y="789.45" width="30.13" height="48.35" fill="#EAE0D8"/>
<rect x="978.97" y="789.45" width="30.13" height="48.35" fill="#EAE0D8"/>
<rect x="1008.8" y="789.45" width="30.13" height="48.35" fill="#ECDFD7"/>
<rect x="1038.63" y="789.45" width="30.13" height="48.35" fill="#EDDFD6"/>
<rect x="1068.46" y="789.45" width="30.13" height="48.35" fill="#EDDFD6"/>
<rect x="103.9" y="837.5" width="30.13" height="48.35" fill="#F9C5AB"/>
<rect x="133.73" y="837.5" width="30.13" height="48.35" fill="#F2DED1"/>
<rect x="163.56" y="837.5" width="30.13" height="48.35" fill="#FAC8AF"/>
<rect x="193.39" y="837.5" width="30.13" height="48.35" fill="#FCD6C0"/>
<rect x="223.22" y="837.5" width="30.13" height="48.35" fill="#F8BDA1"/>
<rect x="253.05" y="837.5" width="30.13" height="48.35" fill="#F8C0A4"/>
<rect x="282.88" y="837.5" width="30.13" height="48.35" fill="#E4E1DE"/>
<rect x="312.71" y="837.5" width="30.13" height="48.35" fill="#FACBB2"/>
<rect x="347.54" y="837.5" width="30.13" height="48.35" fill="#CBE2EE"/>
<rect x="377.37" y="837.5" width="30.13" height="48.35" fill="#C4DFEC"/>
<rect x="407.2" y="837.5" width="30.13" height="48.35" fill="#E5E1DD"/>
<rect x="437.03" y="837.5" width="30.13" height="48.35" fill="#DCE3E5"/>
<rect x="466.86" y="837.5" width="30.13" height="48.35" fill="#D4E4ED"/>
<rect x="496.69" y="837.5" width="30.13" height="48.35" fill="#DCE3E5"/>
<rect x="526.52" y="837.5" width="30.13" height="48.35" fill="#B8D8E9"/>
<rect x="556.35" y="837.5" width="30.13" height="48.35" fill="#B5D7E8"/>
<rect x="586.18" y="837.5" width="30.13" height="48.35" fill="#AED3E6"/>
<rect x="616.01" y="837.5" width="30.13" height="48.35" fill="#B8D8E9"/>
<rect x="645.84" y="837.5" width="30.13" height="48.35" fill="#BEDBEB"/>
<rect x="680.67" y="837.5" width="30.13" height="48.35" fill="#E8E0DB"/>
<rect x="710.5" y="837.5" width="30.13" height="48.35" fill="#EAE0D8"/>
<rect x="740.33" y="837.5" width="30.13" height="48.35" fill="#F6DDCE"/>
<rect x="770.16" y="837.5" width="30.13" height="48.35" fill="#F9DCCA"/>
<rect x="799.99" y="837.5" width="30.13" height="48.35" fill="#F7DCCD"/>
<rect x="829.82" y="837.5" width="30.13" height="48.35" fill="#F7DCCD"/>
<rect x="859.65" y="837.5" width="30.13" height="48.35" fill="#F2DED1"/>
<rect x="889.48" y="837.5" width="30.13" height="48.35" fill="#DBE3E6"/>
<rect x="919.31" y="837.5" width="30.13" height="48.35" fill="#DEE2E3"/>
<rect x="949.14" y="837.5" width="30.13" height="48.35" fill="#DEE2E3"/>
<rect x="978.97" y="837.5" width="30.13" height="48.35" fill="#DAE3E7"/>
<rect x="1008.8" y="837.5" width="30.13" height="48.35" fill="#EAE0D8"/>
<rect x="1038.63" y="837.5" width="30.13" height="48.35" fill="#E9E0D9"/>
<rect x="1068.46" y="837.5" width="30.13" height="48.35" fill="#EAE0D8"/>
<rect x="103.9" y="885.55" width="30.13" height="48.35" fill="#ABD2E5"/>
<rect x="133.73" y="885.55" width="30.13" height="48.35" fill="#E1E2E1"/>
<rect x="163.56" y="885.55" width="30.13" height="48.35" fill="#E5E1DD"/>
<rect x="193.39" y="885.55" width="30.13" height="48.35" fill="#D4E4ED"/>
<rect x="223.22" y="885.55" width="30.13" height="48.35" fill="#F2DED1"/>
<rect x="253.05" y="885.55" width="30.13" height="48.35" fill="#F9DCCA"/>
<rect x="282.88" y="885.55" width="30.13" height="48.35" fill="#F8C0A4"/>
<rect x="312.71" y="885.55" width="30.13" height="48.35" fill="#FAC8AF"/>
<rect x="347.54" y="885.55" width="30.13" height="48.35" fill="#EDDFD6"/>
<rect x="377.37" y="885.55" width="30.13" height="48.35" fill="#E3E1DF"/>
<rect x="407.2" y="885.55" width="30.13" height="48.35" fill="#D4E4ED"/>
<rect x="437.03" y="885.55" width="30.13" height="48.35" fill="#D4E4ED"/>
<rect x="466.86" y="885.55" width="30.13" height="48.35" fill="#C4DFEC"/>
<rect x="496.69" y="885.55" width="30.13" height="48.35" fill="#A8D0E4"/>
<rect x="526.52" y="885.55" width="30.13" height="48.35" fill="#DBE3E6"/>
<rect x="556.35" y="885.55" width="30.13" height="48.35" fill="#D6E4EC"/>
<rect x="586.18" y="885.55" width="30.13" height="48.35" fill="#D4E4ED"/>
<rect x="616.01" y="885.55" width="30.13" height="48.35" fill="#D4E4ED"/>
<rect x="645.84" y="885.55" width="30.13" height="48.35" fill="#C1DDEC"/>
<rect x="680.67" y="885.55" width="30.13" height="48.35" fill="#E1E2E1"/>
<rect x="710.5" y="885.55" width="30.13" height="48.35" fill="#C1DDEC"/>
<rect x="740.33" y="885.55" width="30.13" height="48.35" fill="#C4DFEC"/>
<rect x="770.16" y="885.55" width="30.13" height="48.35" fill="#C4DFEC"/>
<rect x="799.99" y="885.55" width="30.13" height="48.35" fill="#EAE0D8"/>
<rect x="829.82" y="885.55" width="30.13" height="48.35" fill="#FDDBC7"/>
<rect x="859.65" y="885.55" width="30.13" height="48.35" fill="#E4E1DE"/>
<rect x="889.48" y="885.55" width="30.13" height="48.35" fill="#E3E1DF"/>
<rect x="919.31" y="885.55" width="30.13" height="48.35" fill="#F9DCCA"/>
<rect x="949.14" y="885.55" width="30.13" height="48.35" fill="#F7DCCD"/>
<rect x="978.97" y="885.55" width="30.13" height="48.35" fill="#DFE2E2"/>
<rect x="1008.8" y="885.55" width="30.13" height="48.35" fill="#E0E2E2"/>
<rect x="1038.63" y="885.55" width="30.13" height="48.35" fill="#EAE0D8"/>
<rect x="1068.46" y="885.55" width="30.13" height="48.35" fill="#EAE0D8"/>
<rect x="342.54" y="639.5" width="5" height="295.1" fill="#fff"/>
<rect x="675.67" y="639.5" width="5" height="295.1" fill="#fff"/>
<rect x="102.9" y="688.55" width="996.39" height="4.8" fill="#fff"/>
<rect x="1098.29" y="639.5" width="2" height="295.1" fill="#fff"/>
<rect x="102.9" y="933.6" width="997.39" height="2" fill="#fff"/>
<path d="M178.47 638.6V633.3H208.3V638.6M148.65 638.6V632.8H193.39V633.3M118.81 638.6V629.9H171.02V632.8M238.13 638.6V632.3H267.96V638.6M297.79 638.6V630.4H327.62V638.6M253.05 632.3V625.7H312.71V630.4M144.92 629.9V619.8H282.88V625.7M362.45 638.6V634.6H392.28V638.6M422.11 638.6V633.8H451.94V638.6M377.37 634.6V631.1H437.03V633.8M481.77 638.6V629.9H511.6V638.6M630.92 638.6V636H660.75V638.6M601.09 638.6V635H645.84V636M571.26 638.6V633.3H623.47V635M541.43 638.6V632.6H597.37V633.3M496.69 629.9V627.7H569.4V632.6M407.2 631.1V626.5H533.05V627.7M695.59 638.6V634.9H725.42V638.6M710.5 634.9V633.3H755.25V638.6M732.87 633.3V630.8H785.08V638.6M814.91 638.6V633.5H844.74V638.6M874.57 638.6V633.3H904.4V638.6M934.23 638.6V634.9H964.06V638.6M1053.55 638.6V636.2H1083.38V638.6M1023.72 638.6V635.4H1068.46V636.2M993.89 638.6V633.5H1046.09V635.4M949.14 634.9V631.4H1019.99V633.5M889.48 633.3V629.5H984.56V631.4M829.82 633.5V627.9H937.02V629.5M758.97 630.8V626H883.42V627.9M470.12 626.5V608.7H821.2V626M213.9 619.8V591.6H645.66V608.7" stroke="#000" stroke-width="1.2" fill="none" stroke-linejoin="miter" stroke-linecap="square"/>
<path d="M101.8 717.37H90.5V765.42H101.8M101.8 813.47H86.5V861.52H101.8M90.5 741.4H84V837.5H86.5M84 789.45H74.9V909.57H101.8M101.8 664.52H55.2V849.51H74.9" stroke="#000" stroke-width="1.2" fill="none" stroke-linejoin="miter" stroke-linecap="square"/>
<text transform="translate(124.31,950.4) scale(1.04,1) rotate(-41)" font-size="19.2" text-anchor="end">D−dimer</text>
<text transform="translate(154.15,950.4) scale(1.04,1) rotate(-41)" font-size="19.2" text-anchor="end">Lymphocytes (blood)</text>
<text transform="translate(183.97,950.4) scale(1.04,1) rotate(-41)" font-size="19.2" text-anchor="end">WBC</text>
<text transform="translate(213.8,950.4) scale(1.04,1) rotate(-41)" font-size="19.2" text-anchor="end">P/F</text>
<text transform="translate(243.63,950.4) scale(1.04,1) rotate(-41)" font-size="19.2" text-anchor="end">CRP</text>
<text transform="translate(273.46,950.4) scale(1.04,1) rotate(-41)" font-size="19.2" text-anchor="end">PaO2</text>
<text transform="translate(303.29,950.4) scale(1.04,1) rotate(-41)" font-size="19.2" text-anchor="end">FiO2</text>
<text transform="translate(333.12,950.4) scale(1.04,1) rotate(-41)" font-size="19.2" text-anchor="end">Driving pressure</text>
<text transform="translate(367.95,950.4) scale(1.04,1) rotate(-41)" font-size="19.2" text-anchor="end">Vte</text>
<text transform="translate(397.78,950.4) scale(1.04,1) rotate(-41)" font-size="19.2" text-anchor="end">COPD</text>
<text transform="translate(427.61,950.4) scale(1.04,1) rotate(-41)" font-size="19.2" text-anchor="end">Troponin</text>
<text transform="translate(457.44,950.4) scale(1.04,1) rotate(-41)" font-size="19.2" text-anchor="end">Creatinine</text>
<text transform="translate(487.27,950.4) scale(1.04,1) rotate(-41)" font-size="19.2" text-anchor="end">Neutrophils (blood)</text>
<text transform="translate(517.1,950.4) scale(1.04,1) rotate(-41)" font-size="19.2" text-anchor="end">CK</text>
<text transform="translate(546.93,950.4) scale(1.04,1) rotate(-41)" font-size="19.2" text-anchor="end">Arterial pH</text>
<text transform="translate(576.76,950.4) scale(1.04,1) rotate(-41)" font-size="19.2" text-anchor="end">Elder (&gt; 65 years−old)</text>
<text transform="translate(606.59,950.4) scale(1.04,1) rotate(-41)" font-size="19.2" text-anchor="end">Age</text>
<text transform="translate(636.42,950.4) scale(1.04,1) rotate(-41)" font-size="19.2" text-anchor="end">AST</text>
<text transform="translate(666.25,950.4) scale(1.04,1) rotate(-41)" font-size="19.2" text-anchor="end">Respiratory system compliance</text>
<text transform="translate(701.09,950.4) scale(1.04,1) rotate(-41)" font-size="19.2" text-anchor="end">BMI</text>
<text transform="translate(730.92,950.4) scale(1.04,1) rotate(-41)" font-size="19.2" text-anchor="end">Ferritin</text>
<text transform="translate(760.75,950.4) scale(1.04,1) rotate(-41)" font-size="19.2" text-anchor="end">LDH</text>
<text transform="translate(790.58,950.4) scale(1.04,1) rotate(-41)" font-size="19.2" text-anchor="end">Days on MV</text>
<text transform="translate(820.41,950.4) scale(1.04,1) rotate(-41)" font-size="19.2" text-anchor="end">Procalcitonin</text>
<text transform="translate(850.24,950.4) scale(1.04,1) rotate(-41)" font-size="19.2" text-anchor="end">Immunocompromised</text>
<text transform="translate(880.07,950.4) scale(1.04,1) rotate(-41)" font-size="19.2" text-anchor="end">PaCO2</text>
<text transform="translate(909.9,950.4) scale(1.04,1) rotate(-41)" font-size="19.2" text-anchor="end">HCO3</text>
<text transform="translate(939.73,950.4) scale(1.04,1) rotate(-41)" font-size="19.2" text-anchor="end">Eosinophils (blood)</text>
<text transform="translate(969.56,950.4) scale(1.04,1) rotate(-41)" font-size="19.2" text-anchor="end">PEEP</text>
<text transform="translate(999.39,950.4) scale(1.04,1) rotate(-41)" font-size="19.2" text-anchor="end">Deceased</text>
<text transform="translate(1029.22,950.4) scale(1.04,1) rotate(-41)" font-size="19.2" text-anchor="end">Steroids</text>
<text transform="translate(1059.05,950.4) scale(1.04,1) rotate(-41)" font-size="19.2" text-anchor="end">SOFA</text>
<text transform="translate(1088.88,950.4) scale(1.04,1) rotate(-41)" font-size="19.2" text-anchor="end">Diabetes</text>
<text transform="translate(1103.49,673.1) scale(1.04,1)" font-size="21.8">Neutrophils</text>
<text transform="translate(1103.49,725.8) scale(1.04,1)" font-size="21.8">CD4 T cells</text>
<text transform="translate(1103.49,775.6) scale(1.04,1)" font-size="21.8">T<tspan font-size="13.52" dy="6">reg</tspan><tspan dy="-6"> cells</tspan></text>
<text transform="translate(1103.49,821.8) scale(1.04,1)" font-size="21.8">CD8 T cells</text>
<text transform="translate(1103.49,870) scale(1.04,1)" font-size="21.8">Macrophages</text>
<text transform="translate(1103.49,917.6) scale(1.04,1)" font-size="21.8">Monocytes</text>
<text transform="translate(40.8,783.7) scale(1.04,1) rotate(-90)" font-size="25.35" text-anchor="middle">BAL immune cell subsets</text>
<text transform="translate(1257,728.9) scale(1.1,1)" font-size="20.7">Spearman (rho)</text>
<defs><linearGradient id="g742" gradientUnits="userSpaceOnUse" x1="0" y1="742.8" x2="0" y2="857.9"><stop offset="0" stop-color="#6B0F25"/><stop offset="0.12" stop-color="#B5202F"/><stop offset="0.25" stop-color="#E07A60"/><stop offset="0.38" stop-color="#F7C4AB"/><stop offset="0.5" stop-color="#E8E2DE"/><stop offset="0.62" stop-color="#A9CFE4"/><stop offset="0.75" stop-color="#3C8AC2"/><stop offset="0.88" stop-color="#205EA3"/><stop offset="1" stop-color="#253B70"/></linearGradient></defs>
<rect x="1255.3" y="739" width="19.9" height="122.7" fill="url(#g742)"/>
<line x1="1255.3" y1="742.8" x2="1259.3" y2="742.8" stroke="#fff" stroke-width="1.2" stroke-linecap="butt"/>
<line x1="1271.2" y1="742.8" x2="1275.2" y2="742.8" stroke="#fff" stroke-width="1.2" stroke-linecap="butt"/>
<text transform="translate(1279.8,750.6) scale(1.1,1)" font-size="20">1</text>
<line x1="1255.3" y1="771.57" x2="1259.3" y2="771.57" stroke="#fff" stroke-width="1.2" stroke-linecap="butt"/>
<line x1="1271.2" y1="771.57" x2="1275.2" y2="771.57" stroke="#fff" stroke-width="1.2" stroke-linecap="butt"/>
<text transform="translate(1279.8,779.37) scale(1.1,1)" font-size="20">0.5</text>
<line x1="1255.3" y1="800.35" x2="1259.3" y2="800.35" stroke="#fff" stroke-width="1.2" stroke-linecap="butt"/>
<line x1="1271.2" y1="800.35" x2="1275.2" y2="800.35" stroke="#fff" stroke-width="1.2" stroke-linecap="butt"/>
<text transform="translate(1279.8,808.15) scale(1.1,1)" font-size="20">0</text>
<line x1="1255.3" y1="829.12" x2="1259.3" y2="829.12" stroke="#fff" stroke-width="1.2" stroke-linecap="butt"/>
<line x1="1271.2" y1="829.12" x2="1275.2" y2="829.12" stroke="#fff" stroke-width="1.2" stroke-linecap="butt"/>
<text transform="translate(1279.8,836.92) scale(1.1,1)" font-size="20">−0.5</text>
<line x1="1255.3" y1="857.9" x2="1259.3" y2="857.9" stroke="#fff" stroke-width="1.2" stroke-linecap="butt"/>
<line x1="1271.2" y1="857.9" x2="1275.2" y2="857.9" stroke="#fff" stroke-width="1.2" stroke-linecap="butt"/>
<text transform="translate(1279.8,865.7) scale(1.1,1)" font-size="20">−1</text>
<text transform="translate(625.4,577.8)" font-size="24.3" text-anchor="middle">OP</text>
<text transform="translate(18.6,564.3) scale(0.84,1)" font-size="37" font-weight="bold">b</text>
<rect x="95.8" y="1223.6" width="33.14" height="47.6" fill="#F8C0A4"/>
<rect x="128.64" y="1223.6" width="33.14" height="47.6" fill="#F09B7A"/>
<rect x="161.48" y="1223.6" width="33.14" height="47.6" fill="#DF755D"/>
<rect x="194.32" y="1223.6" width="33.14" height="47.6" fill="#F7DCCD"/>
<rect x="227.16" y="1223.6" width="33.14" height="47.6" fill="#F8BB9E"/>
<rect x="260" y="1223.6" width="33.14" height="47.6" fill="#F8BB9E"/>
<rect x="292.84" y="1223.6" width="33.14" height="47.6" fill="#F7DCCD"/>
<rect x="325.68" y="1223.6" width="33.14" height="47.6" fill="#F9C3A8"/>
<rect x="363.22" y="1223.6" width="33.14" height="47.6" fill="#B2D5E7"/>
<rect x="396.06" y="1223.6" width="33.14" height="47.6" fill="#ABD2E5"/>
<rect x="428.9" y="1223.6" width="33.14" height="47.6" fill="#67AACF"/>
<rect x="461.74" y="1223.6" width="33.14" height="47.6" fill="#CBE2EE"/>
<rect x="494.58" y="1223.6" width="33.14" height="47.6" fill="#ABD2E5"/>
<rect x="527.42" y="1223.6" width="33.14" height="47.6" fill="#DAE3E7"/>
<rect x="560.26" y="1223.6" width="33.14" height="47.6" fill="#E5E1DD"/>
<rect x="593.1" y="1223.6" width="33.14" height="47.6" fill="#D5E4EC"/>
<rect x="625.94" y="1223.6" width="33.14" height="47.6" fill="#CBE2EE"/>
<rect x="658.78" y="1223.6" width="33.14" height="47.6" fill="#E1E2E1"/>
<rect x="691.62" y="1223.6" width="33.14" height="47.6" fill="#D9E3E9"/>
<rect x="724.46" y="1223.6" width="33.14" height="47.6" fill="#ECDFD7"/>
<rect x="762" y="1223.6" width="33.14" height="47.6" fill="#AED3E6"/>
<rect x="794.84" y="1223.6" width="33.14" height="47.6" fill="#CBE2EE"/>
<rect x="827.68" y="1223.6" width="33.14" height="47.6" fill="#CBE2EE"/>
<rect x="860.52" y="1223.6" width="33.14" height="47.6" fill="#DFE2E2"/>
<rect x="893.36" y="1223.6" width="33.14" height="47.6" fill="#FCD3BD"/>
<rect x="926.2" y="1223.6" width="33.14" height="47.6" fill="#B5D7E8"/>
<rect x="959.04" y="1223.6" width="33.14" height="47.6" fill="#B8D8E9"/>
<rect x="991.88" y="1223.6" width="33.14" height="47.6" fill="#D2E5EF"/>
<rect x="1024.72" y="1223.6" width="33.14" height="47.6" fill="#DCE3E5"/>
<rect x="1057.56" y="1223.6" width="33.14" height="47.6" fill="#D7E4EB"/>
<rect x="95.8" y="1275.7" width="33.14" height="47.6" fill="#9FCBE2"/>
<rect x="128.64" y="1275.7" width="33.14" height="47.6" fill="#6AACD0"/>
<rect x="161.48" y="1275.7" width="33.14" height="47.6" fill="#86BEDA"/>
<rect x="194.32" y="1275.7" width="33.14" height="47.6" fill="#D2E5EF"/>
<rect x="227.16" y="1275.7" width="33.14" height="47.6" fill="#D4E4ED"/>
<rect x="260" y="1275.7" width="33.14" height="47.6" fill="#EDDFD6"/>
<rect x="292.84" y="1275.7" width="33.14" height="47.6" fill="#E4E1DE"/>
<rect x="325.68" y="1275.7" width="33.14" height="47.6" fill="#E8E0DB"/>
<rect x="363.22" y="1275.7" width="33.14" height="47.6" fill="#F4DDCF"/>
<rect x="396.06" y="1275.7" width="33.14" height="47.6" fill="#F6DDCE"/>
<rect x="428.9" y="1275.7" width="33.14" height="47.6" fill="#E6E0DC"/>
<rect x="461.74" y="1275.7" width="33.14" height="47.6" fill="#ECDFD7"/>
<rect x="494.58" y="1275.7" width="33.14" height="47.6" fill="#E4E1DE"/>
<rect x="527.42" y="1275.7" width="33.14" height="47.6" fill="#D1E5F0"/>
<rect x="560.26" y="1275.7" width="33.14" height="47.6" fill="#C4DFEC"/>
<rect x="593.1" y="1275.7" width="33.14" height="47.6" fill="#EAE0D8"/>
<rect x="625.94" y="1275.7" width="33.14" height="47.6" fill="#E8E0DB"/>
<rect x="658.78" y="1275.7" width="33.14" height="47.6" fill="#B8D8E9"/>
<rect x="691.62" y="1275.7" width="33.14" height="47.6" fill="#D9E3E9"/>
<rect x="724.46" y="1275.7" width="33.14" height="47.6" fill="#D5E4EC"/>
<rect x="762" y="1275.7" width="33.14" height="47.6" fill="#E8896D"/>
<rect x="794.84" y="1275.7" width="33.14" height="47.6" fill="#F19E7D"/>
<rect x="827.68" y="1275.7" width="33.14" height="47.6" fill="#F2A27F"/>
<rect x="860.52" y="1275.7" width="33.14" height="47.6" fill="#F4A885"/>
<rect x="893.36" y="1275.7" width="33.14" height="47.6" fill="#F2DED1"/>
<rect x="926.2" y="1275.7" width="33.14" height="47.6" fill="#F6DDCE"/>
<rect x="959.04" y="1275.7" width="33.14" height="47.6" fill="#F6B090"/>
<rect x="991.88" y="1275.7" width="33.14" height="47.6" fill="#FCD3BD"/>
<rect x="1024.72" y="1275.7" width="33.14" height="47.6" fill="#F6DDCE"/>
<rect x="1057.56" y="1275.7" width="33.14" height="47.6" fill="#F9C3A8"/>
<rect x="95.8" y="1323" width="33.14" height="47.6" fill="#92C5DE"/>
<rect x="128.64" y="1323" width="33.14" height="47.6" fill="#AED3E6"/>
<rect x="161.48" y="1323" width="33.14" height="47.6" fill="#9FCBE2"/>
<rect x="194.32" y="1323" width="33.14" height="47.6" fill="#D2E5EF"/>
<rect x="227.16" y="1323" width="33.14" height="47.6" fill="#ABD2E5"/>
<rect x="260" y="1323" width="33.14" height="47.6" fill="#CBE2EE"/>
<rect x="292.84" y="1323" width="33.14" height="47.6" fill="#C4DFEC"/>
<rect x="325.68" y="1323" width="33.14" height="47.6" fill="#CEE3EF"/>
<rect x="363.22" y="1323" width="33.14" height="47.6" fill="#DAE3E7"/>
<rect x="396.06" y="1323" width="33.14" height="47.6" fill="#DAE3E7"/>
<rect x="428.9" y="1323" width="33.14" height="47.6" fill="#C1DDEC"/>
<rect x="461.74" y="1323" width="33.14" height="47.6" fill="#B5D7E8"/>
<rect x="494.58" y="1323" width="33.14" height="47.6" fill="#BBDAEA"/>
<rect x="527.42" y="1323" width="33.14" height="47.6" fill="#D4E4ED"/>
<rect x="560.26" y="1323" width="33.14" height="47.6" fill="#DBE3E6"/>
<rect x="593.1" y="1323" width="33.14" height="47.6" fill="#FDDBC7"/>
<rect x="625.94" y="1323" width="33.14" height="47.6" fill="#D2E5EF"/>
<rect x="658.78" y="1323" width="33.14" height="47.6" fill="#8EC2DD"/>
<rect x="691.62" y="1323" width="33.14" height="47.6" fill="#A8D0E4"/>
<rect x="724.46" y="1323" width="33.14" height="47.6" fill="#ABD2E5"/>
<rect x="762" y="1323" width="33.14" height="47.6" fill="#E27C62"/>
<rect x="794.84" y="1323" width="33.14" height="47.6" fill="#F5AA89"/>
<rect x="827.68" y="1323" width="33.14" height="47.6" fill="#F2A27F"/>
<rect x="860.52" y="1323" width="33.14" height="47.6" fill="#F6B090"/>
<rect x="893.36" y="1323" width="33.14" height="47.6" fill="#F2DED1"/>
<rect x="926.2" y="1323" width="33.14" height="47.6" fill="#F4A582"/>
<rect x="959.04" y="1323" width="33.14" height="47.6" fill="#FDD8C4"/>
<rect x="991.88" y="1323" width="33.14" height="47.6" fill="#FDD8C4"/>
<rect x="1024.72" y="1323" width="33.14" height="47.6" fill="#E6E0DC"/>
<rect x="1057.56" y="1323" width="33.14" height="47.6" fill="#F8BB9E"/>
<rect x="95.8" y="1370.3" width="33.14" height="47.6" fill="#9FCBE2"/>
<rect x="128.64" y="1370.3" width="33.14" height="47.6" fill="#AED3E6"/>
<rect x="161.48" y="1370.3" width="33.14" height="47.6" fill="#CBE2EE"/>
<rect x="194.32" y="1370.3" width="33.14" height="47.6" fill="#A5CFE3"/>
<rect x="227.16" y="1370.3" width="33.14" height="47.6" fill="#9FCBE2"/>
<rect x="260" y="1370.3" width="33.14" height="47.6" fill="#98C8E0"/>
<rect x="292.84" y="1370.3" width="33.14" height="47.6" fill="#B5D7E8"/>
<rect x="325.68" y="1370.3" width="33.14" height="47.6" fill="#C4DFEC"/>
<rect x="363.22" y="1370.3" width="33.14" height="47.6" fill="#FCDBC8"/>
<rect x="396.06" y="1370.3" width="33.14" height="47.6" fill="#FDDBC7"/>
<rect x="428.9" y="1370.3" width="33.14" height="47.6" fill="#E4E1DE"/>
<rect x="461.74" y="1370.3" width="33.14" height="47.6" fill="#D1E5F0"/>
<rect x="494.58" y="1370.3" width="33.14" height="47.6" fill="#D6E4EC"/>
<rect x="527.42" y="1370.3" width="33.14" height="47.6" fill="#D4E4ED"/>
<rect x="560.26" y="1370.3" width="33.14" height="47.6" fill="#D8E4EA"/>
<rect x="593.1" y="1370.3" width="33.14" height="47.6" fill="#ECDFD7"/>
<rect x="625.94" y="1370.3" width="33.14" height="47.6" fill="#E8E0DB"/>
<rect x="658.78" y="1370.3" width="33.14" height="47.6" fill="#D6E4EC"/>
<rect x="691.62" y="1370.3" width="33.14" height="47.6" fill="#D6E4EC"/>
<rect x="724.46" y="1370.3" width="33.14" height="47.6" fill="#C1DDEC"/>
<rect x="762" y="1370.3" width="33.14" height="47.6" fill="#E6866A"/>
<rect x="794.84" y="1370.3" width="33.14" height="47.6" fill="#F4A885"/>
<rect x="827.68" y="1370.3" width="33.14" height="47.6" fill="#FCD3BD"/>
<rect x="860.52" y="1370.3" width="33.14" height="47.6" fill="#FADCC9"/>
<rect x="893.36" y="1370.3" width="33.14" height="47.6" fill="#FBD0B9"/>
<rect x="926.2" y="1370.3" width="33.14" height="47.6" fill="#FDDBC7"/>
<rect x="959.04" y="1370.3" width="33.14" height="47.6" fill="#F6DDCE"/>
<rect x="991.88" y="1370.3" width="33.14" height="47.6" fill="#FADCC9"/>
<rect x="1024.72" y="1370.3" width="33.14" height="47.6" fill="#FAC8AF"/>
<rect x="1057.56" y="1370.3" width="33.14" height="47.6" fill="#F9C3A8"/>
<rect x="95.8" y="1422.4" width="33.14" height="47.6" fill="#DAE3E7"/>
<rect x="128.64" y="1422.4" width="33.14" height="47.6" fill="#A8D0E4"/>
<rect x="161.48" y="1422.4" width="33.14" height="47.6" fill="#AED3E6"/>
<rect x="194.32" y="1422.4" width="33.14" height="47.6" fill="#F0DED2"/>
<rect x="227.16" y="1422.4" width="33.14" height="47.6" fill="#AED3E6"/>
<rect x="260" y="1422.4" width="33.14" height="47.6" fill="#A8D0E4"/>
<rect x="292.84" y="1422.4" width="33.14" height="47.6" fill="#E8E0DB"/>
<rect x="325.68" y="1422.4" width="33.14" height="47.6" fill="#D2E5EF"/>
<rect x="363.22" y="1422.4" width="33.14" height="47.6" fill="#FAC8AF"/>
<rect x="396.06" y="1422.4" width="33.14" height="47.6" fill="#FAC8AF"/>
<rect x="428.9" y="1422.4" width="33.14" height="47.6" fill="#F4A885"/>
<rect x="461.74" y="1422.4" width="33.14" height="47.6" fill="#FDDBC7"/>
<rect x="494.58" y="1422.4" width="33.14" height="47.6" fill="#F9C3A8"/>
<rect x="527.42" y="1422.4" width="33.14" height="47.6" fill="#D4E4ED"/>
<rect x="560.26" y="1422.4" width="33.14" height="47.6" fill="#D2E5EF"/>
<rect x="593.1" y="1422.4" width="33.14" height="47.6" fill="#FBD0B9"/>
<rect x="625.94" y="1422.4" width="33.14" height="47.6" fill="#F8BB9E"/>
<rect x="658.78" y="1422.4" width="33.14" height="47.6" fill="#F3DDD0"/>
<rect x="691.62" y="1422.4" width="33.14" height="47.6" fill="#F8BB9E"/>
<rect x="724.46" y="1422.4" width="33.14" height="47.6" fill="#FCDBC8"/>
<rect x="762" y="1422.4" width="33.14" height="47.6" fill="#FDDBC7"/>
<rect x="794.84" y="1422.4" width="33.14" height="47.6" fill="#F7B597"/>
<rect x="827.68" y="1422.4" width="33.14" height="47.6" fill="#FCD3BD"/>
<rect x="860.52" y="1422.4" width="33.14" height="47.6" fill="#F9C3A8"/>
<rect x="893.36" y="1422.4" width="33.14" height="47.6" fill="#98C8E0"/>
<rect x="926.2" y="1422.4" width="33.14" height="47.6" fill="#F8DCCC"/>
<rect x="959.04" y="1422.4" width="33.14" height="47.6" fill="#F8DCCC"/>
<rect x="991.88" y="1422.4" width="33.14" height="47.6" fill="#ECDFD7"/>
<rect x="1024.72" y="1422.4" width="33.14" height="47.6" fill="#DFE2E2"/>
<rect x="1057.56" y="1422.4" width="33.14" height="47.6" fill="#DAE3E7"/>
<rect x="95.8" y="1469.7" width="33.14" height="47.6" fill="#CBE2EE"/>
<rect x="128.64" y="1469.7" width="33.14" height="47.6" fill="#A8D0E4"/>
<rect x="161.48" y="1469.7" width="33.14" height="47.6" fill="#AED3E6"/>
<rect x="194.32" y="1469.7" width="33.14" height="47.6" fill="#95C7DF"/>
<rect x="227.16" y="1469.7" width="33.14" height="47.6" fill="#D2E5EF"/>
<rect x="260" y="1469.7" width="33.14" height="47.6" fill="#C4DFEC"/>
<rect x="292.84" y="1469.7" width="33.14" height="47.6" fill="#DCE3E5"/>
<rect x="325.68" y="1469.7" width="33.14" height="47.6" fill="#F2DED1"/>
<rect x="363.22" y="1469.7" width="33.14" height="47.6" fill="#F8BB9E"/>
<rect x="396.06" y="1469.7" width="33.14" height="47.6" fill="#FCDBC8"/>
<rect x="428.9" y="1469.7" width="33.14" height="47.6" fill="#FCD3BD"/>
<rect x="461.74" y="1469.7" width="33.14" height="47.6" fill="#F2DED1"/>
<rect x="494.58" y="1469.7" width="33.14" height="47.6" fill="#F9C3A8"/>
<rect x="527.42" y="1469.7" width="33.14" height="47.6" fill="#F7B597"/>
<rect x="560.26" y="1469.7" width="33.14" height="47.6" fill="#FCD6C0"/>
<rect x="593.1" y="1469.7" width="33.14" height="47.6" fill="#DCE3E5"/>
<rect x="625.94" y="1469.7" width="33.14" height="47.6" fill="#D3E5EE"/>
<rect x="658.78" y="1469.7" width="33.14" height="47.6" fill="#F3DDD0"/>
<rect x="691.62" y="1469.7" width="33.14" height="47.6" fill="#D1E5F0"/>
<rect x="724.46" y="1469.7" width="33.14" height="47.6" fill="#CBE2EE"/>
<rect x="762" y="1469.7" width="33.14" height="47.6" fill="#C4DFEC"/>
<rect x="794.84" y="1469.7" width="33.14" height="47.6" fill="#AED3E6"/>
<rect x="827.68" y="1469.7" width="33.14" height="47.6" fill="#C4DFEC"/>
<rect x="860.52" y="1469.7" width="33.14" height="47.6" fill="#CBE2EE"/>
<rect x="893.36" y="1469.7" width="33.14" height="47.6" fill="#D2E5EF"/>
<rect x="926.2" y="1469.7" width="33.14" height="47.6" fill="#ECDFD7"/>
<rect x="959.04" y="1469.7" width="33.14" height="47.6" fill="#EDDFD6"/>
<rect x="991.88" y="1469.7" width="33.14" height="47.6" fill="#FDDBC7"/>
<rect x="1024.72" y="1469.7" width="33.14" height="47.6" fill="#F6DDCE"/>
<rect x="1057.56" y="1469.7" width="33.14" height="47.6" fill="#C4DFEC"/>
<rect x="358.52" y="1222.6" width="4.7" height="295.4" fill="#fff"/>
<rect x="757.3" y="1222.6" width="4.7" height="295.4" fill="#fff"/>
<rect x="94.8" y="1270.9" width="996.6" height="4.8" fill="#fff"/>
<rect x="94.8" y="1417.6" width="996.6" height="4.8" fill="#fff"/>
<rect x="1090.4" y="1222.6" width="2" height="295.4" fill="#fff"/>
<rect x="94.8" y="1517" width="997.6" height="2" fill="#fff"/>
<path d="M145.06 1221.6V1217H177.9V1221.6M112.22 1221.6V1213.1H161.48V1217M243.58 1221.6V1217.5H276.42V1221.6M309.26 1221.6V1217H342.1V1221.6M260 1217.5V1212.9H325.68V1217M210.74 1221.6V1212.1H292.84V1212.9M136.85 1213.1V1205H251.79V1212.1M379.64 1221.6V1218.3H412.48V1221.6M478.16 1221.6V1216.3H511V1221.6M445.32 1221.6V1213.7H494.58V1216.3M396.06 1218.3V1212.7H469.95V1213.7M543.84 1221.6V1218.1H576.68V1221.6M609.52 1221.6V1215.8H642.36V1221.6M708.04 1221.6V1217.8H740.88V1221.6M675.2 1221.6V1214.5H724.46V1217.8M625.94 1215.8V1209.6H699.83V1214.5M560.26 1218.1V1207H662.89V1209.6M433.01 1212.7V1205.2H611.57V1207M844.1 1221.6V1218.2H876.94V1221.6M811.26 1221.6V1216.6H860.52V1218.2M778.42 1221.6V1212.7H835.89V1216.6M975.46 1221.6V1216.9H1008.3V1221.6M942.62 1221.6V1215.5H991.88V1216.9M1041.14 1221.6V1213.6H1073.98V1221.6M967.25 1215.5V1213.1H1057.56V1213.6M909.78 1221.6V1208H1012.41V1213.1M807.16 1212.7V1202.5H961.09V1208M522.29 1205.2V1184.8H884.12V1202.5M194.32 1205V1174.8H703.21V1184.8" stroke="#000" stroke-width="1.2" fill="none" stroke-linejoin="miter" stroke-linecap="square"/>
<path d="M94.1 1299.35H80.7V1346.65H94.1M80.7 1323H79V1393.95H94.1M94.1 1446.05H69.7V1493.35H94.1M79 1358.47H59.9V1469.7H69.7M94.1 1247.25H47.2V1414.09H59.9" stroke="#000" stroke-width="1.2" fill="none" stroke-linejoin="miter" stroke-linecap="square"/>
<text transform="translate(117.72,1533.6) scale(1.06,1) rotate(-41)" font-size="18.9" text-anchor="end">Procalcitonin</text>
<text transform="translate(150.56,1533.6) scale(1.06,1) rotate(-41)" font-size="18.9" text-anchor="end">Superinfection</text>
<text transform="translate(183.4,1533.6) scale(1.06,1) rotate(-41)" font-size="18.9" text-anchor="end">D−dimer</text>
<text transform="translate(216.24,1533.6) scale(1.06,1) rotate(-41)" font-size="18.9" text-anchor="end">Neutrophils (blood)</text>
<text transform="translate(249.08,1533.6) scale(1.06,1) rotate(-41)" font-size="18.9" text-anchor="end">Creatinine</text>
<text transform="translate(281.92,1533.6) scale(1.06,1) rotate(-41)" font-size="18.9" text-anchor="end">Diabetes</text>
<text transform="translate(314.76,1533.6) scale(1.06,1) rotate(-41)" font-size="18.9" text-anchor="end">PEEP</text>
<text transform="translate(347.6,1533.6) scale(1.06,1) rotate(-41)" font-size="18.9" text-anchor="end">Driving pressure</text>
<text transform="translate(385.14,1533.6) scale(1.06,1) rotate(-41)" font-size="18.9" text-anchor="end">Deceased</text>
<text transform="translate(417.98,1533.6) scale(1.06,1) rotate(-41)" font-size="18.9" text-anchor="end">Immunocompromised</text>
<text transform="translate(450.82,1533.6) scale(1.06,1) rotate(-41)" font-size="18.9" text-anchor="end">PaO2</text>
<text transform="translate(483.66,1533.6) scale(1.06,1) rotate(-41)" font-size="18.9" text-anchor="end">Troponin</text>
<text transform="translate(516.5,1533.6) scale(1.06,1) rotate(-41)" font-size="18.9" text-anchor="end">P/F</text>
<text transform="translate(549.34,1533.6) scale(1.06,1) rotate(-41)" font-size="18.9" text-anchor="end">Age</text>
<text transform="translate(582.18,1533.6) scale(1.06,1) rotate(-41)" font-size="18.9" text-anchor="end">Elder (&gt; 65 years−old)</text>
<text transform="translate(615.02,1533.6) scale(1.06,1) rotate(-41)" font-size="18.9" text-anchor="end">BMI</text>
<text transform="translate(647.86,1533.6) scale(1.06,1) rotate(-41)" font-size="18.9" text-anchor="end">Respiratory system compliance</text>
<text transform="translate(680.7,1533.6) scale(1.06,1) rotate(-41)" font-size="18.9" text-anchor="end">SOFA</text>
<text transform="translate(713.54,1533.6) scale(1.06,1) rotate(-41)" font-size="18.9" text-anchor="end">Vte</text>
<text transform="translate(746.38,1533.6) scale(1.06,1) rotate(-41)" font-size="18.9" text-anchor="end">Steroids</text>
<text transform="translate(783.92,1533.6) scale(1.06,1) rotate(-41)" font-size="18.9" text-anchor="end">HCO3</text>
<text transform="translate(816.76,1533.6) scale(1.06,1) rotate(-41)" font-size="18.9" text-anchor="end">Arterial pH</text>
<text transform="translate(849.6,1533.6) scale(1.06,1) rotate(-41)" font-size="18.9" text-anchor="end">Eosinophils (blood)</text>
<text transform="translate(882.44,1533.6) scale(1.06,1) rotate(-41)" font-size="18.9" text-anchor="end">Days on MV</text>
<text transform="translate(915.28,1533.6) scale(1.06,1) rotate(-41)" font-size="18.9" text-anchor="end">LDH</text>
<text transform="translate(948.12,1533.6) scale(1.06,1) rotate(-41)" font-size="18.9" text-anchor="end">Lymphocytes (blood)</text>
<text transform="translate(980.96,1533.6) scale(1.06,1) rotate(-41)" font-size="18.9" text-anchor="end">FiO2</text>
<text transform="translate(1013.8,1533.6) scale(1.06,1) rotate(-41)" font-size="18.9" text-anchor="end">COPD</text>
<text transform="translate(1046.64,1533.6) scale(1.06,1) rotate(-41)" font-size="18.9" text-anchor="end">AST</text>
<text transform="translate(1079.48,1533.6) scale(1.06,1) rotate(-41)" font-size="18.9" text-anchor="end">PaCO2</text>
<text transform="translate(1095.6,1252.7) scale(1.06,1)" font-size="21.3">Neutrophils</text>
<text transform="translate(1095.6,1302.7) scale(1.06,1)" font-size="21.3">T<tspan font-size="14.91" dy="5">reg</tspan><tspan dy="-5"> cells</tspan></text>
<text transform="translate(1095.6,1355.8) scale(1.06,1)" font-size="21.3">CD4<tspan font-size="14.91" dy="-7.5">+</tspan><tspan dy="7.5"> T cells</tspan></text>
<text transform="translate(1095.6,1402.6) scale(1.06,1)" font-size="21.3">CD8<tspan font-size="14.91" dy="-7.5">+</tspan><tspan dy="7.5"> T cells</tspan></text>
<text transform="translate(1095.6,1450.2) scale(1.06,1)" font-size="21.3">Macrophages</text>
<text transform="translate(1095.6,1498) scale(1.06,1)" font-size="21.3">Monocytes</text>
<text transform="translate(32.9,1366.4) scale(1.06,1) rotate(-90)" font-size="25.25" text-anchor="middle">BAL immune cell subsets</text>
<text transform="translate(1248.8,1286.5) scale(1.1,1)" font-size="20.7">Spearman</text>
<text transform="translate(1248.8,1310.1) scale(1.1,1)" font-size="20.7">(rho)</text>
<defs><linearGradient id="g1325" gradientUnits="userSpaceOnUse" x1="0" y1="1325.5" x2="0" y2="1440"><stop offset="0" stop-color="#6B0F25"/><stop offset="0.12" stop-color="#B5202F"/><stop offset="0.25" stop-color="#E07A60"/><stop offset="0.38" stop-color="#F7C4AB"/><stop offset="0.5" stop-color="#E8E2DE"/><stop offset="0.62" stop-color="#A9CFE4"/><stop offset="0.75" stop-color="#3C8AC2"/><stop offset="0.88" stop-color="#205EA3"/><stop offset="1" stop-color="#253B70"/></linearGradient></defs>
<rect x="1247.2" y="1321.7" width="19.7" height="122.1" fill="url(#g1325)"/>
<line x1="1247.2" y1="1325.5" x2="1251.2" y2="1325.5" stroke="#fff" stroke-width="1.2" stroke-linecap="butt"/>
<line x1="1262.9" y1="1325.5" x2="1266.9" y2="1325.5" stroke="#fff" stroke-width="1.2" stroke-linecap="butt"/>
<text transform="translate(1271.8,1333.3) scale(1.1,1)" font-size="20">1</text>
<line x1="1247.2" y1="1354.12" x2="1251.2" y2="1354.12" stroke="#fff" stroke-width="1.2" stroke-linecap="butt"/>
<line x1="1262.9" y1="1354.12" x2="1266.9" y2="1354.12" stroke="#fff" stroke-width="1.2" stroke-linecap="butt"/>
<text transform="translate(1271.8,1361.92) scale(1.1,1)" font-size="20">0.5</text>
<line x1="1247.2" y1="1382.75" x2="1251.2" y2="1382.75" stroke="#fff" stroke-width="1.2" stroke-linecap="butt"/>
<line x1="1262.9" y1="1382.75" x2="1266.9" y2="1382.75" stroke="#fff" stroke-width="1.2" stroke-linecap="butt"/>
<text transform="translate(1271.8,1390.55) scale(1.1,1)" font-size="20">0</text>
<line x1="1247.2" y1="1411.38" x2="1251.2" y2="1411.38" stroke="#fff" stroke-width="1.2" stroke-linecap="butt"/>
<line x1="1262.9" y1="1411.38" x2="1266.9" y2="1411.38" stroke="#fff" stroke-width="1.2" stroke-linecap="butt"/>
<text transform="translate(1271.8,1419.17) scale(1.1,1)" font-size="20">−0.5</text>
<line x1="1247.2" y1="1440" x2="1251.2" y2="1440" stroke="#fff" stroke-width="1.2" stroke-linecap="butt"/>
<line x1="1262.9" y1="1440" x2="1266.9" y2="1440" stroke="#fff" stroke-width="1.2" stroke-linecap="butt"/>
<text transform="translate(1271.8,1447.8) scale(1.1,1)" font-size="20">−1</text>
<text transform="translate(621.8,1159.6) scale(1.03,1)" font-size="25" text-anchor="middle">OVP</text>
<text transform="translate(21.6,1160.4) scale(0.84,1)" font-size="37" font-weight="bold">c</text>
<rect x="120.3" y="1793.8" width="26.25" height="68.2" fill="#F6DDCE"/>
<rect x="146.25" y="1793.8" width="26.25" height="68.2" fill="#EDDFD6"/>
<rect x="172.2" y="1793.8" width="26.25" height="68.2" fill="#F8DCCC"/>
<rect x="198.15" y="1793.8" width="26.25" height="68.2" fill="#FADCC9"/>
<rect x="224.1" y="1793.8" width="26.25" height="68.2" fill="#FADCC9"/>
<rect x="250.05" y="1793.8" width="26.25" height="68.2" fill="#F2DED1"/>
<rect x="276" y="1793.8" width="26.25" height="68.2" fill="#FADCC9"/>
<rect x="301.95" y="1793.8" width="26.25" height="68.2" fill="#FDDBC7"/>
<rect x="332.4" y="1793.8" width="26.25" height="68.2" fill="#FDDBC7"/>
<rect x="358.35" y="1793.8" width="26.25" height="68.2" fill="#F6DDCE"/>
<rect x="384.3" y="1793.8" width="26.25" height="68.2" fill="#FDD8C4"/>
<rect x="410.25" y="1793.8" width="26.25" height="68.2" fill="#D2E5EF"/>
<rect x="436.2" y="1793.8" width="26.25" height="68.2" fill="#D6E4EC"/>
<rect x="462.15" y="1793.8" width="26.25" height="68.2" fill="#EAE0D8"/>
<rect x="488.1" y="1793.8" width="26.25" height="68.2" fill="#E5E1DD"/>
<rect x="514.05" y="1793.8" width="26.25" height="68.2" fill="#D5E4EC"/>
<rect x="540" y="1793.8" width="26.25" height="68.2" fill="#E3E1DF"/>
<rect x="565.95" y="1793.8" width="26.25" height="68.2" fill="#CBE2EE"/>
<rect x="591.9" y="1793.8" width="26.25" height="68.2" fill="#B2D5E7"/>
<rect x="617.85" y="1793.8" width="26.25" height="68.2" fill="#D3E5EE"/>
<rect x="643.8" y="1793.8" width="26.25" height="68.2" fill="#D1E5F0"/>
<rect x="669.75" y="1793.8" width="26.25" height="68.2" fill="#C4DFEC"/>
<rect x="695.7" y="1793.8" width="26.25" height="68.2" fill="#D5E4EC"/>
<rect x="721.65" y="1793.8" width="26.25" height="68.2" fill="#FCD3BD"/>
<rect x="747.6" y="1793.8" width="26.25" height="68.2" fill="#E4E1DE"/>
<rect x="773.55" y="1793.8" width="26.25" height="68.2" fill="#F2DED1"/>
<rect x="799.5" y="1793.8" width="26.25" height="68.2" fill="#F2DED1"/>
<rect x="825.45" y="1793.8" width="26.25" height="68.2" fill="#F2DED1"/>
<rect x="851.4" y="1793.8" width="26.25" height="68.2" fill="#EFDED4"/>
<rect x="877.35" y="1793.8" width="26.25" height="68.2" fill="#EAE0D8"/>
<rect x="903.3" y="1793.8" width="26.25" height="68.2" fill="#ECDFD7"/>
<rect x="929.25" y="1793.8" width="26.25" height="68.2" fill="#E1E2E1"/>
<rect x="955.2" y="1793.8" width="26.25" height="68.2" fill="#DFE2E2"/>
<rect x="981.15" y="1793.8" width="26.25" height="68.2" fill="#DFE2E2"/>
<rect x="1007.1" y="1793.8" width="26.25" height="68.2" fill="#ECDFD7"/>
<rect x="1033.05" y="1793.8" width="26.25" height="68.2" fill="#F0DED2"/>
<rect x="120.3" y="1861.7" width="26.25" height="68.2" fill="#EFDED4"/>
<rect x="146.25" y="1861.7" width="26.25" height="68.2" fill="#EEDFD5"/>
<rect x="172.2" y="1861.7" width="26.25" height="68.2" fill="#FDDBC7"/>
<rect x="198.15" y="1861.7" width="26.25" height="68.2" fill="#FDD8C4"/>
<rect x="224.1" y="1861.7" width="26.25" height="68.2" fill="#FBD0B9"/>
<rect x="250.05" y="1861.7" width="26.25" height="68.2" fill="#FAC8AF"/>
<rect x="276" y="1861.7" width="26.25" height="68.2" fill="#F9C3A8"/>
<rect x="301.95" y="1861.7" width="26.25" height="68.2" fill="#F9C3A8"/>
<rect x="332.4" y="1861.7" width="26.25" height="68.2" fill="#E9E0D9"/>
<rect x="358.35" y="1861.7" width="26.25" height="68.2" fill="#DCE3E5"/>
<rect x="384.3" y="1861.7" width="26.25" height="68.2" fill="#F6DDCE"/>
<rect x="410.25" y="1861.7" width="26.25" height="68.2" fill="#DAE3E7"/>
<rect x="436.2" y="1861.7" width="26.25" height="68.2" fill="#CBE2EE"/>
<rect x="462.15" y="1861.7" width="26.25" height="68.2" fill="#D5E4EC"/>
<rect x="488.1" y="1861.7" width="26.25" height="68.2" fill="#DCE3E5"/>
<rect x="514.05" y="1861.7" width="26.25" height="68.2" fill="#B8D8E9"/>
<rect x="540" y="1861.7" width="26.25" height="68.2" fill="#D2E5EF"/>
<rect x="565.95" y="1861.7" width="26.25" height="68.2" fill="#AED3E6"/>
<rect x="591.9" y="1861.7" width="26.25" height="68.2" fill="#ABD2E5"/>
<rect x="617.85" y="1861.7" width="26.25" height="68.2" fill="#D3E5EE"/>
<rect x="643.8" y="1861.7" width="26.25" height="68.2" fill="#D1E5F0"/>
<rect x="669.75" y="1861.7" width="26.25" height="68.2" fill="#D3E5EE"/>
<rect x="695.7" y="1861.7" width="26.25" height="68.2" fill="#D5E4EC"/>
<rect x="721.65" y="1861.7" width="26.25" height="68.2" fill="#E6E0DC"/>
<rect x="747.6" y="1861.7" width="26.25" height="68.2" fill="#F4DDCF"/>
<rect x="773.55" y="1861.7" width="26.25" height="68.2" fill="#E8E0DB"/>
<rect x="799.5" y="1861.7" width="26.25" height="68.2" fill="#EAE0D8"/>
<rect x="825.45" y="1861.7" width="26.25" height="68.2" fill="#E6E0DC"/>
<rect x="851.4" y="1861.7" width="26.25" height="68.2" fill="#E8E0DB"/>
<rect x="877.35" y="1861.7" width="26.25" height="68.2" fill="#EFDED4"/>
<rect x="903.3" y="1861.7" width="26.25" height="68.2" fill="#D9E3E9"/>
<rect x="929.25" y="1861.7" width="26.25" height="68.2" fill="#D9E3E9"/>
<rect x="955.2" y="1861.7" width="26.25" height="68.2" fill="#DAE3E7"/>
<rect x="981.15" y="1861.7" width="26.25" height="68.2" fill="#D5E4EC"/>
<rect x="1007.1" y="1861.7" width="26.25" height="68.2" fill="#DCE3E5"/>
<rect x="1033.05" y="1861.7" width="26.25" height="68.2" fill="#E3E1DF"/>
<rect x="120.3" y="1934.6" width="26.25" height="68.2" fill="#A8D0E4"/>
<rect x="146.25" y="1934.6" width="26.25" height="68.2" fill="#ABD2E5"/>
<rect x="172.2" y="1934.6" width="26.25" height="68.2" fill="#DFE2E2"/>
<rect x="198.15" y="1934.6" width="26.25" height="68.2" fill="#EAE0D8"/>
<rect x="224.1" y="1934.6" width="26.25" height="68.2" fill="#C4DFEC"/>
<rect x="250.05" y="1934.6" width="26.25" height="68.2" fill="#D4E4ED"/>
<rect x="276" y="1934.6" width="26.25" height="68.2" fill="#D8E4EA"/>
<rect x="301.95" y="1934.6" width="26.25" height="68.2" fill="#D2E5EF"/>
<rect x="332.4" y="1934.6" width="26.25" height="68.2" fill="#FADCC9"/>
<rect x="358.35" y="1934.6" width="26.25" height="68.2" fill="#FDDBC7"/>
<rect x="384.3" y="1934.6" width="26.25" height="68.2" fill="#F4DDCF"/>
<rect x="410.25" y="1934.6" width="26.25" height="68.2" fill="#FAC8AF"/>
<rect x="436.2" y="1934.6" width="26.25" height="68.2" fill="#F7B89A"/>
<rect x="462.15" y="1934.6" width="26.25" height="68.2" fill="#FDD8C4"/>
<rect x="488.1" y="1934.6" width="26.25" height="68.2" fill="#FAC8AF"/>
<rect x="514.05" y="1934.6" width="26.25" height="68.2" fill="#FAC8AF"/>
<rect x="540" y="1934.6" width="26.25" height="68.2" fill="#F6B090"/>
<rect x="565.95" y="1934.6" width="26.25" height="68.2" fill="#E4E1DE"/>
<rect x="591.9" y="1934.6" width="26.25" height="68.2" fill="#E4E1DE"/>
<rect x="617.85" y="1934.6" width="26.25" height="68.2" fill="#F6DDCE"/>
<rect x="643.8" y="1934.6" width="26.25" height="68.2" fill="#EAE0D8"/>
<rect x="669.75" y="1934.6" width="26.25" height="68.2" fill="#F3DDD0"/>
<rect x="695.7" y="1934.6" width="26.25" height="68.2" fill="#F3DDD0"/>
<rect x="721.65" y="1934.6" width="26.25" height="68.2" fill="#E1E2E1"/>
<rect x="747.6" y="1934.6" width="26.25" height="68.2" fill="#DCE3E5"/>
<rect x="773.55" y="1934.6" width="26.25" height="68.2" fill="#D3E5EE"/>
<rect x="799.5" y="1934.6" width="26.25" height="68.2" fill="#D9E3E9"/>
<rect x="825.45" y="1934.6" width="26.25" height="68.2" fill="#E5E1DD"/>
<rect x="851.4" y="1934.6" width="26.25" height="68.2" fill="#DAE3E7"/>
<rect x="877.35" y="1934.6" width="26.25" height="68.2" fill="#E1E2E1"/>
<rect x="903.3" y="1934.6" width="26.25" height="68.2" fill="#EDDFD6"/>
<rect x="929.25" y="1934.6" width="26.25" height="68.2" fill="#E3E1DF"/>
<rect x="955.2" y="1934.6" width="26.25" height="68.2" fill="#E1E2E1"/>
<rect x="981.15" y="1934.6" width="26.25" height="68.2" fill="#E1E2E1"/>
<rect x="1007.1" y="1934.6" width="26.25" height="68.2" fill="#EFDED4"/>
<rect x="1033.05" y="1934.6" width="26.25" height="68.2" fill="#F2DED1"/>
<rect x="120.3" y="2002.5" width="26.25" height="68.2" fill="#A5CFE3"/>
<rect x="146.25" y="2002.5" width="26.25" height="68.2" fill="#ABD2E5"/>
<rect x="172.2" y="2002.5" width="26.25" height="68.2" fill="#DFE2E2"/>
<rect x="198.15" y="2002.5" width="26.25" height="68.2" fill="#D2E5EF"/>
<rect x="224.1" y="2002.5" width="26.25" height="68.2" fill="#A8D0E4"/>
<rect x="250.05" y="2002.5" width="26.25" height="68.2" fill="#C4DFEC"/>
<rect x="276" y="2002.5" width="26.25" height="68.2" fill="#CBE2EE"/>
<rect x="301.95" y="2002.5" width="26.25" height="68.2" fill="#B8D8E9"/>
<rect x="332.4" y="2002.5" width="26.25" height="68.2" fill="#FDDBC7"/>
<rect x="358.35" y="2002.5" width="26.25" height="68.2" fill="#FADCC9"/>
<rect x="384.3" y="2002.5" width="26.25" height="68.2" fill="#F7DCCD"/>
<rect x="410.25" y="2002.5" width="26.25" height="68.2" fill="#F0DED2"/>
<rect x="436.2" y="2002.5" width="26.25" height="68.2" fill="#F2DED1"/>
<rect x="462.15" y="2002.5" width="26.25" height="68.2" fill="#F7B597"/>
<rect x="488.1" y="2002.5" width="26.25" height="68.2" fill="#FDD8C4"/>
<rect x="514.05" y="2002.5" width="26.25" height="68.2" fill="#F6B293"/>
<rect x="540" y="2002.5" width="26.25" height="68.2" fill="#F6B293"/>
<rect x="565.95" y="2002.5" width="26.25" height="68.2" fill="#FDD8C4"/>
<rect x="591.9" y="2002.5" width="26.25" height="68.2" fill="#F4DDCF"/>
<rect x="617.85" y="2002.5" width="26.25" height="68.2" fill="#F8DCCC"/>
<rect x="643.8" y="2002.5" width="26.25" height="68.2" fill="#F3DDD0"/>
<rect x="669.75" y="2002.5" width="26.25" height="68.2" fill="#EDDFD6"/>
<rect x="695.7" y="2002.5" width="26.25" height="68.2" fill="#ECDFD7"/>
<rect x="721.65" y="2002.5" width="26.25" height="68.2" fill="#E5E1DD"/>
<rect x="747.6" y="2002.5" width="26.25" height="68.2" fill="#DFE2E2"/>
<rect x="773.55" y="2002.5" width="26.25" height="68.2" fill="#E3E1DF"/>
<rect x="799.5" y="2002.5" width="26.25" height="68.2" fill="#E3E1DF"/>
<rect x="825.45" y="2002.5" width="26.25" height="68.2" fill="#D9E3E9"/>
<rect x="851.4" y="2002.5" width="26.25" height="68.2" fill="#D3E5EE"/>
<rect x="877.35" y="2002.5" width="26.25" height="68.2" fill="#F3DDD0"/>
<rect x="903.3" y="2002.5" width="26.25" height="68.2" fill="#F6DDCE"/>
<rect x="929.25" y="2002.5" width="26.25" height="68.2" fill="#E8E0DB"/>
<rect x="955.2" y="2002.5" width="26.25" height="68.2" fill="#E9E0D9"/>
<rect x="981.15" y="2002.5" width="26.25" height="68.2" fill="#F8DCCC"/>
<rect x="1007.1" y="2002.5" width="26.25" height="68.2" fill="#DFE2E2"/>
<rect x="1033.05" y="2002.5" width="26.25" height="68.2" fill="#DFE2E2"/>
<rect x="327.9" y="1792.8" width="4.5" height="278.6" fill="#fff"/>
<rect x="119.3" y="1929.6" width="940.7" height="5" fill="#fff"/>
<rect x="1059" y="1792.8" width="2" height="278.6" fill="#fff"/>
<rect x="119.3" y="2070.4" width="941.7" height="2" fill="#fff"/>
<path d="M133.28 1791.8V1789.5H159.22V1791.8M185.17 1791.8V1788.3H211.12V1791.8M288.97 1791.8V1789H314.92V1791.8M263.02 1791.8V1788H301.95V1789M237.07 1791.8V1787H282.49V1788M198.15 1788.3V1783.4H259.78V1787M146.25 1789.5V1777.7H228.97V1783.4M345.37 1791.8V1788.2H371.32V1791.8M358.35 1788.2V1786.8H397.27V1791.8M423.22 1791.8V1788.2H449.17V1791.8M475.12 1791.8V1788.2H501.07V1791.8M527.02 1791.8V1788.2H552.97V1791.8M488.1 1788.2V1785.3H540V1788.2M436.2 1788.2V1782.1H514.05V1785.3M377.81 1786.8V1776.4H475.12V1782.1M578.92 1791.8V1788.2H604.88V1791.8M682.73 1791.8V1789.7H708.68V1791.8M656.78 1791.8V1789H695.7V1789.7M630.83 1791.8V1788.2H676.24V1789M591.9 1788.2V1783.6H653.53V1788.2M786.53 1791.8V1789.7H812.48V1791.8M760.58 1791.8V1788.2H799.5V1789.7M838.43 1791.8V1789.7H864.38V1791.8M780.04 1788.2V1787.5H851.4V1789.7M734.63 1791.8V1786.5H815.72V1787.5M942.23 1791.8V1790.4H968.18V1791.8M955.2 1790.4V1788.5H994.13V1791.8M916.28 1791.8V1787.5H974.66V1788.5M890.33 1791.8V1786.8H945.47V1787.5M1020.08 1791.8V1789H1046.03V1791.8M917.9 1786.8V1784.8H1033.05V1789M775.17 1786.5V1781.6H975.47V1784.8M622.72 1783.6V1770.8H875.32V1781.6M426.47 1776.4V1763.7H749.02V1770.8M187.61 1777.7V1747.7H587.74V1763.7" stroke="#000" stroke-width="1.2" fill="none" stroke-linejoin="miter" stroke-linecap="square"/>
<path d="M118.4 1827.75H105.5V1895.65H118.4M118.4 1968.55H105.1V2036.45H118.4M105.5 1861.7H72.1V2002.5H105.1" stroke="#000" stroke-width="1.2" fill="none" stroke-linejoin="miter" stroke-linecap="square"/>
<text transform="translate(138.78,2086.7) scale(1.1,1) rotate(-41)" font-size="18.3" text-anchor="end">BMI</text>
<text transform="translate(164.72,2086.7) scale(1.1,1) rotate(-41)" font-size="18.3" text-anchor="end">COPD</text>
<text transform="translate(190.67,2086.7) scale(1.1,1) rotate(-41)" font-size="18.3" text-anchor="end">CK</text>
<text transform="translate(216.62,2086.7) scale(1.1,1) rotate(-41)" font-size="18.3" text-anchor="end">Respiratory system compliance</text>
<text transform="translate(242.57,2086.7) scale(1.1,1) rotate(-41)" font-size="18.3" text-anchor="end">Creatinine</text>
<text transform="translate(268.52,2086.7) scale(1.1,1) rotate(-41)" font-size="18.3" text-anchor="end">Age</text>
<text transform="translate(294.47,2086.7) scale(1.1,1) rotate(-41)" font-size="18.3" text-anchor="end">Elder (&gt; 65 years−old)</text>
<text transform="translate(320.42,2086.7) scale(1.1,1) rotate(-41)" font-size="18.3" text-anchor="end">Vte</text>
<text transform="translate(350.87,2086.7) scale(1.1,1) rotate(-41)" font-size="18.3" text-anchor="end">PEEP</text>
<text transform="translate(376.82,2086.7) scale(1.1,1) rotate(-41)" font-size="18.3" text-anchor="end">LDH</text>
<text transform="translate(402.77,2086.7) scale(1.1,1) rotate(-41)" font-size="18.3" text-anchor="end">AST</text>
<text transform="translate(428.72,2086.7) scale(1.1,1) rotate(-41)" font-size="18.3" text-anchor="end">Arterial pH</text>
<text transform="translate(454.67,2086.7) scale(1.1,1) rotate(-41)" font-size="18.3" text-anchor="end">Remdesivir</text>
<text transform="translate(480.62,2086.7) scale(1.1,1) rotate(-41)" font-size="18.3" text-anchor="end">PaCO2</text>
<text transform="translate(506.57,2086.7) scale(1.1,1) rotate(-41)" font-size="18.3" text-anchor="end">Tocilizumab</text>
<text transform="translate(532.52,2086.7) scale(1.1,1) rotate(-41)" font-size="18.3" text-anchor="end">D−dimer</text>
<text transform="translate(558.47,2086.7) scale(1.1,1) rotate(-41)" font-size="18.3" text-anchor="end">HCO3</text>
<text transform="translate(584.42,2086.7) scale(1.1,1) rotate(-41)" font-size="18.3" text-anchor="end">Driving pressure</text>
<text transform="translate(610.38,2086.7) scale(1.1,1) rotate(-41)" font-size="18.3" text-anchor="end">SOFA</text>
<text transform="translate(636.33,2086.7) scale(1.1,1) rotate(-41)" font-size="18.3" text-anchor="end">Eosinophils (blood)</text>
<text transform="translate(662.28,2086.7) scale(1.1,1) rotate(-41)" font-size="18.3" text-anchor="end">Days on MV</text>
<text transform="translate(688.23,2086.7) scale(1.1,1) rotate(-41)" font-size="18.3" text-anchor="end">Superinfection</text>
<text transform="translate(714.18,2086.7) scale(1.1,1) rotate(-41)" font-size="18.3" text-anchor="end">Steroids</text>
<text transform="translate(740.13,2086.7) scale(1.1,1) rotate(-41)" font-size="18.3" text-anchor="end">FiO2</text>
<text transform="translate(766.08,2086.7) scale(1.1,1) rotate(-41)" font-size="18.3" text-anchor="end">P/F</text>
<text transform="translate(792.03,2086.7) scale(1.1,1) rotate(-41)" font-size="18.3" text-anchor="end">Procalcitonin</text>
<text transform="translate(817.98,2086.7) scale(1.1,1) rotate(-41)" font-size="18.3" text-anchor="end">PaO2</text>
<text transform="translate(843.93,2086.7) scale(1.1,1) rotate(-41)" font-size="18.3" text-anchor="end">Lymphocytes (blood)</text>
<text transform="translate(869.88,2086.7) scale(1.1,1) rotate(-41)" font-size="18.3" text-anchor="end">Diabetes</text>
<text transform="translate(895.83,2086.7) scale(1.1,1) rotate(-41)" font-size="18.3" text-anchor="end">Troponin</text>
<text transform="translate(921.78,2086.7) scale(1.1,1) rotate(-41)" font-size="18.3" text-anchor="end">Ferritin</text>
<text transform="translate(947.73,2086.7) scale(1.1,1) rotate(-41)" font-size="18.3" text-anchor="end">WBC</text>
<text transform="translate(973.68,2086.7) scale(1.1,1) rotate(-41)" font-size="18.3" text-anchor="end">Neutrophils (blood)</text>
<text transform="translate(999.63,2086.7) scale(1.1,1) rotate(-41)" font-size="18.3" text-anchor="end">Deceased</text>
<text transform="translate(1025.58,2086.7) scale(1.1,1) rotate(-41)" font-size="18.3" text-anchor="end">CRP</text>
<text transform="translate(1051.53,2086.7) scale(1.1,1) rotate(-41)" font-size="18.3" text-anchor="end">Immunocompromised</text>
<text transform="translate(133.28,1974.15)" font-size="16.5" text-anchor="middle">*</text>
<text transform="translate(159.22,1974.15)" font-size="16.5" text-anchor="middle">*</text>
<text transform="translate(133.28,2042.05)" font-size="16.5" text-anchor="middle">*</text>
<text transform="translate(159.22,2042.05)" font-size="16.5" text-anchor="middle">*</text>
<text transform="translate(237.07,2042.05)" font-size="16.5" text-anchor="middle">*</text>
<text transform="translate(449.17,1974.15)" font-size="16.5" text-anchor="middle">*</text>
<text transform="translate(552.97,1974.15)" font-size="16.5" text-anchor="middle">*</text>
<text transform="translate(527.02,2042.05)" font-size="16.5" text-anchor="middle">*</text>
<text transform="translate(552.97,2042.05)" font-size="16.5" text-anchor="middle">*</text>
<text transform="translate(604.88,1901.25)" font-size="16.5" text-anchor="middle">*</text>
<text transform="translate(1062.7,1835.9) scale(1.08,1)" font-size="22.3">CD4<tspan font-size="12.27" dy="-7.5">+</tspan><tspan dy="7.5"> MFI CD127</tspan></text>
<text transform="translate(1062.7,1903.8) scale(1.08,1)" font-size="22.3">CD8<tspan font-size="12.27" dy="-7.5">+</tspan><tspan dy="7.5"> MFI CD127</tspan></text>
<text transform="translate(1062.7,1975.8) scale(1.08,1)" font-size="22.3">CD4<tspan font-size="12.27" dy="-7.5">+</tspan><tspan dy="7.5"> MFI HLA−DR</tspan></text>
<text transform="translate(1062.7,2043.7) scale(1.08,1)" font-size="22.3">CD8<tspan font-size="12.27" dy="-7.5">+</tspan><tspan dy="7.5"> MFI HLA−DR</tspan></text>
<text transform="translate(58.2,1955.8) scale(1.1,1) rotate(-90)" font-size="25" text-anchor="middle">BALT cell subsets</text>
<text transform="translate(1280.1,1851.2) scale(1.06,1)" font-size="22.2">Spearman</text>
<text transform="translate(1280.1,1877.3) scale(1.06,1)" font-size="22.2">(rho)</text>
<defs><linearGradient id="g1890" gradientUnits="userSpaceOnUse" x1="0" y1="1890.6" x2="0" y2="1998.5"><stop offset="0" stop-color="#6B0F25"/><stop offset="0.12" stop-color="#B5202F"/><stop offset="0.25" stop-color="#E07A60"/><stop offset="0.38" stop-color="#F7C4AB"/><stop offset="0.5" stop-color="#E8E2DE"/><stop offset="0.62" stop-color="#A9CFE4"/><stop offset="0.75" stop-color="#3C8AC2"/><stop offset="0.88" stop-color="#205EA3"/><stop offset="1" stop-color="#253B70"/></linearGradient></defs>
<rect x="1284.5" y="1886.8" width="19.9" height="115.5" fill="url(#g1890)"/>
<line x1="1284.5" y1="1890.6" x2="1288.5" y2="1890.6" stroke="#fff" stroke-width="1.2" stroke-linecap="butt"/>
<line x1="1300.4" y1="1890.6" x2="1304.4" y2="1890.6" stroke="#fff" stroke-width="1.2" stroke-linecap="butt"/>
<text transform="translate(1308.9,1898.4) scale(1.1,1)" font-size="20">1</text>
<line x1="1284.5" y1="1917.57" x2="1288.5" y2="1917.57" stroke="#fff" stroke-width="1.2" stroke-linecap="butt"/>
<line x1="1300.4" y1="1917.57" x2="1304.4" y2="1917.57" stroke="#fff" stroke-width="1.2" stroke-linecap="butt"/>
<text transform="translate(1308.9,1925.37) scale(1.1,1)" font-size="20">0.5</text>
<line x1="1284.5" y1="1944.55" x2="1288.5" y2="1944.55" stroke="#fff" stroke-width="1.2" stroke-linecap="butt"/>
<line x1="1300.4" y1="1944.55" x2="1304.4" y2="1944.55" stroke="#fff" stroke-width="1.2" stroke-linecap="butt"/>
<text transform="translate(1308.9,1952.35) scale(1.1,1)" font-size="20">0</text>
<line x1="1284.5" y1="1971.53" x2="1288.5" y2="1971.53" stroke="#fff" stroke-width="1.2" stroke-linecap="butt"/>
<line x1="1300.4" y1="1971.53" x2="1304.4" y2="1971.53" stroke="#fff" stroke-width="1.2" stroke-linecap="butt"/>
<text transform="translate(1308.9,1979.33) scale(1.1,1)" font-size="20">−0.5</text>
<line x1="1284.5" y1="1998.5" x2="1288.5" y2="1998.5" stroke="#fff" stroke-width="1.2" stroke-linecap="butt"/>
<line x1="1300.4" y1="1998.5" x2="1304.4" y2="1998.5" stroke="#fff" stroke-width="1.2" stroke-linecap="butt"/>
<text transform="translate(1308.9,2006.3) scale(1.1,1)" font-size="20">−1</text>
<text transform="translate(616.5,1734.3) scale(1.05,1)" font-size="24.5" text-anchor="middle">SARS-CoV-2-P</text>
<text transform="translate(18.5,1724.4) scale(0.84,1)" font-size="37" font-weight="bold">f</text>
<rect x="1508.8" y="1201.7" width="61.3" height="181.9" fill="#8792B8"/>
<rect x="1508.8" y="1383.3" width="61.3" height="114.8" fill="#F2997E"/>
<rect x="1508.8" y="1497.8" width="61.3" height="29.3" fill="#AE9E8B"/>
<rect x="1631" y="1201.7" width="61" height="156.6" fill="#8792B8"/>
<rect x="1631" y="1358" width="61" height="139.4" fill="#F2997E"/>
<rect x="1631" y="1497.1" width="61" height="23.9" fill="#AE9E8B"/>
<rect x="1631" y="1520.7" width="61" height="6.4" fill="#808080"/>
<line x1="1466.7" y1="1169.7" x2="1466.7" y2="1527.8" stroke="#222" stroke-width="1.6" stroke-linecap="butt"/>
<line x1="1463" y1="1526.8" x2="1734.4" y2="1526.8" stroke="#222" stroke-width="2" stroke-linecap="butt"/>
<line x1="1463" y1="1201.7" x2="1466.7" y2="1201.7" stroke="#222" stroke-width="1.2" stroke-linecap="butt"/>
<text transform="translate(1457,1206.7) scale(1.06,1)" font-size="18.3" text-anchor="end">1.00</text>
<line x1="1463" y1="1282.97" x2="1466.7" y2="1282.97" stroke="#222" stroke-width="1.2" stroke-linecap="butt"/>
<text transform="translate(1457,1287.97) scale(1.06,1)" font-size="18.3" text-anchor="end">0.75</text>
<line x1="1463" y1="1364.25" x2="1466.7" y2="1364.25" stroke="#222" stroke-width="1.2" stroke-linecap="butt"/>
<text transform="translate(1457,1369.25) scale(1.06,1)" font-size="18.3" text-anchor="end">0.50</text>
<line x1="1463" y1="1445.53" x2="1466.7" y2="1445.53" stroke="#222" stroke-width="1.2" stroke-linecap="butt"/>
<text transform="translate(1457,1450.53) scale(1.06,1)" font-size="18.3" text-anchor="end">0.25</text>
<line x1="1463" y1="1526.8" x2="1466.7" y2="1526.8" stroke="#222" stroke-width="1.2" stroke-linecap="butt"/>
<text transform="translate(1457,1531.8) scale(1.06,1)" font-size="18.3" text-anchor="end">0.00</text>
<text transform="translate(1405.8,1321.5) rotate(-90)" font-size="25.7" text-anchor="middle">Proportion</text>
<text transform="translate(1532.5,1555.7) scale(1.04,1)" font-size="24.7" text-anchor="middle">Discharged</text>
<text transform="translate(1670.6,1555.7) scale(1.04,1)" font-size="24.7" text-anchor="middle">Deceased</text>
<text transform="translate(1705.6,1178.7) scale(1.09,1)" font-size="24">Infection status</text>
<rect x="1712.2" y="1189.6" width="20" height="21.2" fill="#8792B8"/>
<text transform="translate(1739.5,1209.2) scale(1.1,1)" font-size="20.5">Primary only</text>
<rect x="1712.2" y="1213.5" width="20" height="19.2" fill="#F2997E"/>
<text transform="translate(1739.5,1231) scale(1.1,1)" font-size="20.5">Superinfection</text>
<rect x="1712.2" y="1236.1" width="20" height="21.2" fill="#AE9E8B"/>
<text transform="translate(1739.5,1255.3) scale(1.1,1)" font-size="20.5">VAP</text>
<rect x="1712.2" y="1259.7" width="20" height="19.5" fill="#808080"/>
<text transform="translate(1739.5,1277.5) scale(1.1,1)" font-size="20.5">NA</text>
<text transform="translate(1383.5,1158.6) scale(0.84,1)" font-size="37" font-weight="bold">d</text>
<rect x="1512.1" y="1803.8" width="60.7" height="190.3" fill="#8792B8"/>
<rect x="1512.1" y="1993.8" width="60.7" height="50.2" fill="#F2997E"/>
<rect x="1512.1" y="2043.7" width="60.7" height="77" fill="#E34A33"/>
<rect x="1633.4" y="1803.8" width="60.6" height="68.4" fill="#8792B8"/>
<rect x="1633.4" y="1871.9" width="60.6" height="78.8" fill="#F2997E"/>
<rect x="1633.4" y="1950.4" width="60.6" height="170.3" fill="#E34A33"/>
<line x1="1470" y1="1766.8" x2="1470" y2="2121.4" stroke="#222" stroke-width="1.6" stroke-linecap="butt"/>
<line x1="1466.3" y1="2120.4" x2="1735.4" y2="2120.4" stroke="#222" stroke-width="2" stroke-linecap="butt"/>
<line x1="1466.3" y1="1803.8" x2="1470" y2="1803.8" stroke="#222" stroke-width="1.2" stroke-linecap="butt"/>
<text transform="translate(1460,1808.8) scale(1.06,1)" font-size="18.3" text-anchor="end">1.00</text>
<line x1="1466.3" y1="1882.95" x2="1470" y2="1882.95" stroke="#222" stroke-width="1.2" stroke-linecap="butt"/>
<text transform="translate(1460,1887.95) scale(1.06,1)" font-size="18.3" text-anchor="end">0.75</text>
<line x1="1466.3" y1="1962.1" x2="1470" y2="1962.1" stroke="#222" stroke-width="1.2" stroke-linecap="butt"/>
<text transform="translate(1460,1967.1) scale(1.06,1)" font-size="18.3" text-anchor="end">0.50</text>
<line x1="1466.3" y1="2041.25" x2="1470" y2="2041.25" stroke="#222" stroke-width="1.2" stroke-linecap="butt"/>
<text transform="translate(1460,2046.25) scale(1.06,1)" font-size="18.3" text-anchor="end">0.25</text>
<line x1="1466.3" y1="2120.4" x2="1470" y2="2120.4" stroke="#222" stroke-width="1.2" stroke-linecap="butt"/>
<text transform="translate(1460,2125.4) scale(1.06,1)" font-size="18.3" text-anchor="end">0.00</text>
<text transform="translate(1405.8,1926) rotate(-90)" font-size="25.7" text-anchor="middle">Proportion</text>
<text transform="translate(1531.5,2150.3) scale(1.04,1)" font-size="24.7" text-anchor="middle">Discharged</text>
<text transform="translate(1672.8,2150.3) scale(1.04,1)" font-size="24.7" text-anchor="middle">Deceased</text>
<text transform="translate(1606.4,1764.8) scale(1.1,1)" font-size="20.5" text-anchor="middle">2.1e−03 (C)</text>
<text transform="translate(1602.4,1790.4) scale(1.1,1)" font-size="20.5" text-anchor="middle">1.24e−02 (NC)</text>
<path d="M1541.8 1800.2V1797.8H1664.7V1800.2" stroke="#111" stroke-width="1.5" fill="none" stroke-linejoin="miter" stroke-linecap="square"/>
<text transform="translate(1700.6,1796.4) scale(1.09,1)" font-size="24">Infection resolution</text>
<text transform="translate(1707.8,1820) scale(1.09,1)" font-size="24">status</text>
<rect x="1720.3" y="1833.1" width="21.5" height="21.3" fill="#8792B8"/>
<text transform="translate(1752.3,1849.3) scale(1.1,1)" font-size="20.5">Cured</text>
<rect x="1720.3" y="1857.4" width="21.5" height="20.5" fill="#F2997E"/>
<text transform="translate(1752.3,1873.6) scale(1.1,1)" font-size="20.5">Indeterminate</text>
<rect x="1720.3" y="1881" width="21.5" height="20.5" fill="#E34A33"/>
<text transform="translate(1752.3,1896.5) scale(1.1,1)" font-size="20.5">Not cured</text>
<text transform="translate(1393.5,1717.6) scale(0.84,1)" font-size="37" font-weight="bold">e</text>
<path d="M105.4 2488.1C113.98 2490.98 140.33 2500.52 156.9 2505.4C173.47 2510.28 188.82 2514.2 204.8 2517.4C220.78 2520.6 236.82 2522.6 252.8 2524.6C268.78 2526.6 284.72 2528 300.7 2529.4C316.68 2530.8 332.72 2531.88 348.7 2533C364.68 2534.12 379.32 2535.12 396.6 2536.1C413.88 2537.08 443.1 2538.43 452.4 2538.9L452.4 2608.5C443.1 2605.7 413.88 2597.1 396.6 2591.7C379.32 2586.3 364.68 2580.9 348.7 2576.1C332.72 2571.3 316.68 2567.1 300.7 2562.9C284.72 2558.7 268.78 2554.7 252.8 2550.9C236.82 2547.1 220.78 2543.28 204.8 2540.1C188.82 2536.92 173.47 2534.58 156.9 2531.8C140.33 2529.02 113.98 2524.8 105.4 2523.4Z" fill="#EAEAE8"/>
<circle cx="110.9" cy="2358.5" r="5.9" fill="#B9C6E0"/>
<circle cx="110.9" cy="2443.8" r="5.9" fill="#DDD999"/>
<circle cx="145.2" cy="2461.5" r="5.9" fill="#A5A03A"/>
<circle cx="110.9" cy="2480.9" r="5.9" fill="#E6AE93"/>
<circle cx="139.4" cy="2497.2" r="5.9" fill="#AC4FA6"/>
<circle cx="109.9" cy="2516.2" r="5.9" fill="#2E7FBF"/>
<circle cx="116.9" cy="2513.1" r="5.9" fill="#9E5F5B"/>
<circle cx="110.9" cy="2508.5" r="5.9" fill="#3DB9B4"/>
<circle cx="105.4" cy="2531.3" r="5.9" fill="#DCCB72"/>
<circle cx="110.9" cy="2538.5" r="5.9" fill="#AC4FA6"/>
<circle cx="105.4" cy="2545.7" r="5.9" fill="#8A5A1E"/>
<circle cx="128.1" cy="2545.2" r="5.9" fill="#E8BCCF"/>
<circle cx="156.4" cy="2538" r="5.9" fill="#CDAADB"/>
<circle cx="162.2" cy="2528.9" r="5.9" fill="#B5C4DC"/>
<circle cx="179.2" cy="2533.7" r="5.9" fill="#E3AD92"/>
<circle cx="190.7" cy="2531.8" r="5.9" fill="#9A5F5A"/>
<circle cx="185" cy="2514.3" r="5.9" fill="#C8B0D3"/>
<circle cx="156.4" cy="2555.7" r="5.9" fill="#E8A98C"/>
<circle cx="173.4" cy="2561.7" r="5.9" fill="#E8BCCF"/>
<circle cx="202.2" cy="2549.7" r="5.9" fill="#C98A22"/>
<circle cx="196.5" cy="2549.7" r="5.9" fill="#DDD07A"/>
<circle cx="213.5" cy="2534.6" r="5.9" fill="#3CB8B5"/>
<circle cx="219.2" cy="2540.4" r="5.9" fill="#E3AD94"/>
<circle cx="242" cy="2528.6" r="5.9" fill="#C9B0D4"/>
<circle cx="247.8" cy="2541.3" r="5.9" fill="#9A5F5A"/>
<circle cx="270.3" cy="2562.9" r="5.9" fill="#C060B0"/>
<circle cx="287.5" cy="2525.8" r="5.9" fill="#9A5F5A"/>
<circle cx="293.1" cy="2509.5" r="5.9" fill="#C468B4"/>
<circle cx="293.1" cy="2561.7" r="5.9" fill="#CE8B2B"/>
<circle cx="338.6" cy="2557.4" r="5.9" fill="#CE8B2B"/>
<circle cx="378.4" cy="2552.6" r="5.9" fill="#CFA09A"/>
<circle cx="395.4" cy="2570.1" r="5.9" fill="#CE8B2B"/>
<circle cx="423.7" cy="2556.9" r="5.9" fill="#CFA09A"/>
<circle cx="452.4" cy="2550.9" r="5.9" fill="#CE8B2B"/>
<line x1="105.4" y1="2506.1" x2="452.4" y2="2574.2" stroke="#000" stroke-width="2.2" stroke-linecap="butt"/>
<line x1="87.6" y1="2346.5" x2="87.6" y2="2622.55" stroke="#333" stroke-width="2.1" stroke-linecap="butt"/>
<line x1="86.55" y1="2621.5" x2="469.6" y2="2621.5" stroke="#333" stroke-width="2.1" stroke-linecap="butt"/>
<line x1="105.3" y1="2621.5" x2="105.3" y2="2625.3" stroke="#333" stroke-width="1.6" stroke-linecap="butt"/>
<text transform="translate(105.3,2640) scale(1.06,1)" font-size="16.5" text-anchor="middle">0</text>
<line x1="218.9" y1="2621.5" x2="218.9" y2="2625.3" stroke="#333" stroke-width="1.6" stroke-linecap="butt"/>
<text transform="translate(218.9,2640) scale(1.06,1)" font-size="16.5" text-anchor="middle">20</text>
<line x1="332.7" y1="2621.5" x2="332.7" y2="2625.3" stroke="#333" stroke-width="1.6" stroke-linecap="butt"/>
<text transform="translate(332.7,2640) scale(1.06,1)" font-size="16.5" text-anchor="middle">40</text>
<line x1="446.3" y1="2621.5" x2="446.3" y2="2625.3" stroke="#333" stroke-width="1.6" stroke-linecap="butt"/>
<text transform="translate(446.3,2640) scale(1.06,1)" font-size="16.5" text-anchor="middle">60</text>
<line x1="83.8" y1="2364.2" x2="87.6" y2="2364.2" stroke="#333" stroke-width="1.6" stroke-linecap="butt"/>
<text transform="translate(81.2,2370.3)" font-size="17.6" text-anchor="end">2000</text>
<line x1="83.8" y1="2419.7" x2="87.6" y2="2419.7" stroke="#333" stroke-width="1.6" stroke-linecap="butt"/>
<text transform="translate(81.2,2425.8)" font-size="17.6" text-anchor="end">1500</text>
<line x1="83.8" y1="2475.5" x2="87.6" y2="2475.5" stroke="#333" stroke-width="1.6" stroke-linecap="butt"/>
<text transform="translate(81.2,2481.6)" font-size="17.6" text-anchor="end">1000</text>
<line x1="83.8" y1="2531.2" x2="87.6" y2="2531.2" stroke="#333" stroke-width="1.6" stroke-linecap="butt"/>
<text transform="translate(81.2,2537.3)" font-size="17.6" text-anchor="end">500</text>
<line x1="83.8" y1="2587" x2="87.6" y2="2587" stroke="#333" stroke-width="1.6" stroke-linecap="butt"/>
<text transform="translate(81.2,2593.1)" font-size="17.6" text-anchor="end">0</text>
<text transform="translate(274.6,2668) scale(1.12,1)" font-size="20.6" text-anchor="middle">Days from intubation</text>
<text transform="translate(22.1,2466) scale(1.05,1) rotate(-90)" font-size="22.8" text-anchor="middle">CD4<tspan font-size="12.54" dy="-6">+</tspan><tspan dy="6"> MFI CD127</tspan></text>
<text transform="translate(136.3,2370.1) scale(0.96,1)" font-size="22.5"><tspan font-style="italic">R</tspan> = −0.57, <tspan font-style="italic">p</tspan> = 3.8e-04</text>
<path d="M559.4 2511.2C568.25 2511.53 593.82 2512.37 612.5 2513.2C631.18 2514.03 651.83 2516.68 671.5 2516.2C691.17 2515.72 710.83 2513.25 730.5 2510.3C750.17 2507.35 769.83 2502.68 789.5 2498.5C809.17 2494.32 827.52 2490.12 848.5 2485.2C869.48 2480.28 904.25 2471.7 915.4 2469L915.4 2598.8C904.25 2596.83 869.48 2590.8 848.5 2587C827.52 2583.2 809.17 2578.95 789.5 2576C769.83 2573.05 750.17 2570.92 730.5 2569.3C710.83 2567.68 691.17 2565.82 671.5 2566.3C651.83 2566.78 631.18 2569.98 612.5 2572.2C593.82 2574.42 568.25 2578.37 559.4 2579.6Z" fill="#EAEAE8"/>
<circle cx="658.8" cy="2357.5" r="5.9" fill="#C98A22"/>
<circle cx="611.9" cy="2404.4" r="5.9" fill="#CDAADB"/>
<circle cx="647" cy="2412.3" r="5.9" fill="#9A5F5A"/>
<circle cx="798.6" cy="2419.4" r="5.9" fill="#CE8B2B"/>
<circle cx="565.3" cy="2435.3" r="5.9" fill="#DDD999"/>
<circle cx="559.4" cy="2456.9" r="5.9" fill="#8A5A1E"/>
<circle cx="752" cy="2461" r="5.9" fill="#CE8B2B"/>
<circle cx="641.1" cy="2515" r="5.9" fill="#CDAADB"/>
<circle cx="915.4" cy="2529.1" r="5.9" fill="#CE8B2B"/>
<circle cx="635.2" cy="2538.3" r="5.9" fill="#E3AD94"/>
<circle cx="699.5" cy="2544.8" r="5.9" fill="#C9B0D4"/>
<circle cx="617.8" cy="2548.6" r="5.9" fill="#B5C4DC"/>
<circle cx="746.1" cy="2556" r="5.9" fill="#9A5F5A"/>
<circle cx="652.6" cy="2559.5" r="5.9" fill="#D6CB80"/>
<circle cx="705.4" cy="2562.8" r="5.9" fill="#9A5F5A"/>
<circle cx="670.3" cy="2566.3" r="5.9" fill="#3CB8B5"/>
<circle cx="676.2" cy="2562.8" r="5.9" fill="#E3AD94"/>
<circle cx="857.3" cy="2568.4" r="5.9" fill="#CE8B2B"/>
<circle cx="582.7" cy="2572.2" r="5.9" fill="#E0BCCB"/>
<circle cx="611.9" cy="2573.7" r="5.9" fill="#E6AE93"/>
<circle cx="565.3" cy="2576.6" r="5.9" fill="#E3AD94"/>
<circle cx="629.3" cy="2580.5" r="5.9" fill="#E8BCCF"/>
<circle cx="839.6" cy="2581.7" r="5.9" fill="#CFA09A"/>
<circle cx="752" cy="2591.1" r="5.9" fill="#C468B4"/>
<circle cx="594.2" cy="2593.7" r="5.9" fill="#AC4FA6"/>
<circle cx="600.1" cy="2590.5" r="5.9" fill="#A5A03A"/>
<circle cx="886.2" cy="2593.5" r="5.9" fill="#CFA09A"/>
<circle cx="566.8" cy="2592.9" r="5.9" fill="#2E7FBF"/>
<circle cx="571.2" cy="2594.9" r="5.9" fill="#9A5F5A"/>
<circle cx="565.3" cy="2598.2" r="5.9" fill="#3CB8B5"/>
<circle cx="559.4" cy="2587.6" r="5.9" fill="#DCCB72"/>
<circle cx="728.4" cy="2603.8" r="5.9" fill="#C468B4"/>
<circle cx="565.3" cy="2607" r="5.9" fill="#B9C6E0"/>
<line x1="559.4" y1="2546" x2="915.4" y2="2533.9" stroke="#000" stroke-width="2.2" stroke-linecap="butt"/>
<line x1="542.3" y1="2346" x2="542.3" y2="2621.35" stroke="#333" stroke-width="2.1" stroke-linecap="butt"/>
<line x1="541.25" y1="2620.3" x2="933.4" y2="2620.3" stroke="#333" stroke-width="2.1" stroke-linecap="butt"/>
<line x1="559.4" y1="2620.3" x2="559.4" y2="2624.1" stroke="#333" stroke-width="1.6" stroke-linecap="butt"/>
<text transform="translate(559.4,2639.2) scale(1.06,1)" font-size="16.5" text-anchor="middle">0</text>
<line x1="676.2" y1="2620.3" x2="676.2" y2="2624.1" stroke="#333" stroke-width="1.6" stroke-linecap="butt"/>
<text transform="translate(676.2,2639.2) scale(1.06,1)" font-size="16.5" text-anchor="middle">20</text>
<line x1="793" y1="2620.3" x2="793" y2="2624.1" stroke="#333" stroke-width="1.6" stroke-linecap="butt"/>
<text transform="translate(793,2639.2) scale(1.06,1)" font-size="16.5" text-anchor="middle">40</text>
<line x1="909.5" y1="2620.3" x2="909.5" y2="2624.1" stroke="#333" stroke-width="1.6" stroke-linecap="butt"/>
<text transform="translate(909.5,2639.2) scale(1.06,1)" font-size="16.5" text-anchor="middle">60</text>
<line x1="538.5" y1="2384.9" x2="542.3" y2="2384.9" stroke="#333" stroke-width="1.6" stroke-linecap="butt"/>
<text transform="translate(535.9,2391)" font-size="17.6" text-anchor="end">600</text>
<line x1="538.5" y1="2467.5" x2="542.3" y2="2467.5" stroke="#333" stroke-width="1.6" stroke-linecap="butt"/>
<text transform="translate(535.9,2473.6)" font-size="17.6" text-anchor="end">400</text>
<line x1="538.5" y1="2550.1" x2="542.3" y2="2550.1" stroke="#333" stroke-width="1.6" stroke-linecap="butt"/>
<text transform="translate(535.9,2556.2)" font-size="17.6" text-anchor="end">200</text>
<text transform="translate(762.9,2667.5) scale(1.12,1)" font-size="20.6" text-anchor="middle">Days from intubation</text>
<text transform="translate(489.2,2457.9) scale(1.05,1) rotate(-90)" font-size="22.8" text-anchor="middle">CD4<tspan font-size="12.54" dy="-6">+</tspan><tspan dy="6"> MFI HLA−DR</tspan></text>
<text transform="translate(683.9,2369.3) scale(0.96,1)" font-size="22.5"><tspan font-style="italic">R</tspan> = 0.25, <tspan font-style="italic">p</tspan> = 0.16</text>
<path d="M1034.4 2496.4C1044.03 2498.72 1072.73 2506.37 1092.2 2510.3C1111.67 2514.23 1131.53 2517.15 1151.2 2520C1170.87 2522.85 1190.53 2525.33 1210.2 2527.4C1229.87 2529.47 1249.53 2530.93 1269.2 2532.4C1288.87 2533.87 1309.52 2535.07 1328.2 2536.2C1346.88 2537.33 1372.45 2538.7 1381.3 2539.2L1381.3 2607.6C1372.45 2605.15 1346.88 2598.07 1328.2 2592.9C1309.52 2587.73 1288.87 2581.52 1269.2 2576.6C1249.53 2571.68 1229.87 2567.57 1210.2 2563.4C1190.53 2559.23 1170.87 2555.2 1151.2 2551.6C1131.53 2548 1111.67 2544.52 1092.2 2541.8C1072.73 2539.08 1044.03 2536.38 1034.4 2535.3Z" fill="#EAEAE8"/>
<circle cx="1040.3" cy="2357.5" r="5.9" fill="#D6CB80"/>
<circle cx="1074.2" cy="2463.7" r="5.9" fill="#2FBAB5"/>
<circle cx="1045.9" cy="2481.4" r="5.9" fill="#C468B4"/>
<circle cx="1040.3" cy="2491.7" r="5.9" fill="#B9C6E0"/>
<circle cx="1040.3" cy="2500.5" r="5.9" fill="#C9B0D4"/>
<circle cx="1222" cy="2497.3" r="5.9" fill="#A5A340"/>
<circle cx="1062.7" cy="2522.4" r="5.9" fill="#C98A32"/>
<circle cx="1040.3" cy="2533" r="5.9" fill="#2E7FBF"/>
<circle cx="1107.9" cy="2533" r="5.9" fill="#C9B0D4"/>
<circle cx="1113.5" cy="2535.6" r="5.9" fill="#CFA09A"/>
<circle cx="1216.4" cy="2537.7" r="5.9" fill="#C468B4"/>
<circle cx="1068.6" cy="2541.8" r="5.9" fill="#9A5F5A"/>
<circle cx="1141.8" cy="2542.7" r="5.9" fill="#B5C4DC"/>
<circle cx="1176.6" cy="2543.3" r="5.9" fill="#C468B4"/>
<circle cx="1131.2" cy="2545.4" r="5.9" fill="#8A5A1E"/>
<circle cx="1040.3" cy="2550.4" r="5.9" fill="#9DDCE8"/>
<circle cx="1057.1" cy="2551.6" r="5.9" fill="#DDD999"/>
<circle cx="1125" cy="2550.1" r="5.9" fill="#E8B48F"/>
<circle cx="1227.6" cy="2551" r="5.9" fill="#CFA09A"/>
<circle cx="1279.3" cy="2550.4" r="5.9" fill="#A5A340"/>
<circle cx="1171" cy="2553" r="5.9" fill="#CFA09A"/>
<circle cx="1119.7" cy="2555.1" r="5.9" fill="#C468B4"/>
<circle cx="1085.5" cy="2556.3" r="5.9" fill="#CDAADB"/>
<circle cx="1199" cy="2555.1" r="5.9" fill="#A5A340"/>
<circle cx="1352.7" cy="2555.1" r="5.9" fill="#E0BCCB"/>
<circle cx="1381.3" cy="2553.9" r="5.9" fill="#8A5A1E"/>
<circle cx="1034.4" cy="2562.2" r="5.9" fill="#AC4FA6"/>
<circle cx="1091.4" cy="2561.9" r="5.9" fill="#E3AD94"/>
<circle cx="1102.6" cy="2561.9" r="5.9" fill="#DDD999"/>
<circle cx="1204.9" cy="2563.4" r="5.9" fill="#AC4FA6"/>
<circle cx="1307.3" cy="2563.4" r="5.9" fill="#E0BCCB"/>
<circle cx="1267.8" cy="2569.3" r="5.9" fill="#9A6A30"/>
<circle cx="1324.4" cy="2568.4" r="5.9" fill="#9A6A30"/>
<line x1="1034.4" y1="2516.2" x2="1381.3" y2="2573.7" stroke="#000" stroke-width="2.2" stroke-linecap="butt"/>
<line x1="1017.3" y1="2346" x2="1017.3" y2="2621.35" stroke="#333" stroke-width="2.1" stroke-linecap="butt"/>
<line x1="1016.25" y1="2620.3" x2="1398.4" y2="2620.3" stroke="#333" stroke-width="2.1" stroke-linecap="butt"/>
<line x1="1034.7" y1="2620.3" x2="1034.7" y2="2624.1" stroke="#333" stroke-width="1.6" stroke-linecap="butt"/>
<text transform="translate(1034.7,2639.2) scale(1.06,1)" font-size="16.5" text-anchor="middle">0</text>
<line x1="1148.3" y1="2620.3" x2="1148.3" y2="2624.1" stroke="#333" stroke-width="1.6" stroke-linecap="butt"/>
<text transform="translate(1148.3,2639.2) scale(1.06,1)" font-size="16.5" text-anchor="middle">20</text>
<line x1="1261.9" y1="2620.3" x2="1261.9" y2="2624.1" stroke="#333" stroke-width="1.6" stroke-linecap="butt"/>
<text transform="translate(1261.9,2639.2) scale(1.06,1)" font-size="16.5" text-anchor="middle">40</text>
<line x1="1375.4" y1="2620.3" x2="1375.4" y2="2624.1" stroke="#333" stroke-width="1.6" stroke-linecap="butt"/>
<text transform="translate(1375.4,2639.2) scale(1.06,1)" font-size="16.5" text-anchor="middle">60</text>
<line x1="1013.5" y1="2346" x2="1017.3" y2="2346" stroke="#333" stroke-width="1.6" stroke-linecap="butt"/>
<text transform="translate(1011.2,2352.1)" font-size="17.6" text-anchor="end">1200</text>
<line x1="1013.5" y1="2422.9" x2="1017.3" y2="2422.9" stroke="#333" stroke-width="1.6" stroke-linecap="butt"/>
<text transform="translate(1011.2,2429)" font-size="17.6" text-anchor="end">800</text>
<line x1="1013.5" y1="2499.9" x2="1017.3" y2="2499.9" stroke="#333" stroke-width="1.6" stroke-linecap="butt"/>
<text transform="translate(1011.2,2506)" font-size="17.6" text-anchor="end">400</text>
<line x1="1013.5" y1="2577.2" x2="1017.3" y2="2577.2" stroke="#333" stroke-width="1.6" stroke-linecap="butt"/>
<text transform="translate(1011.2,2583.3)" font-size="17.6" text-anchor="end">0</text>
<text transform="translate(1232.4,2667.5) scale(1.12,1)" font-size="20.6" text-anchor="middle">Days from intubation</text>
<text transform="translate(956,2460.9) scale(1.05,1) rotate(-90)" font-size="22.8" text-anchor="middle">CD8<tspan font-size="12.54" dy="-6">+</tspan><tspan dy="6"> MFI CD127</tspan></text>
<text transform="translate(1076,2367.2) scale(0.96,1)" font-size="22.5"><tspan font-style="italic">R</tspan> = −0.47, <tspan font-style="italic">p</tspan> = 5.9e-03</text>
<path d="M1492.3 2510.9C1500.67 2511.78 1524.3 2514.48 1542.5 2516.2C1560.7 2517.92 1581.83 2520.97 1601.5 2521.2C1621.17 2521.43 1640.83 2519.67 1660.5 2517.6C1680.17 2515.53 1699.83 2511.98 1719.5 2508.8C1739.17 2505.62 1758.55 2501.95 1778.5 2498.5C1798.45 2495.05 1829.08 2489.83 1839.2 2488.1L1839.2 2592C1829.08 2590.18 1798.45 2584.65 1778.5 2581.1C1758.55 2577.55 1739.17 2573.65 1719.5 2570.7C1699.83 2567.75 1680.17 2565.12 1660.5 2563.4C1640.83 2561.68 1621.17 2560.07 1601.5 2560.4C1581.83 2560.73 1560.7 2563.43 1542.5 2565.4C1524.3 2567.37 1500.67 2571.07 1492.3 2572.2Z" fill="#EAEAE8"/>
<circle cx="1497.9" cy="2399.1" r="5.9" fill="#9DDCE8"/>
<circle cx="1725.4" cy="2399.1" r="5.9" fill="#8A5A1E"/>
<circle cx="1577.6" cy="2411.4" r="5.9" fill="#C468B4"/>
<circle cx="1514.8" cy="2454.2" r="5.9" fill="#DDD999"/>
<circle cx="1588.8" cy="2480.5" r="5.9" fill="#8A5A1E"/>
<circle cx="1549" cy="2489.6" r="5.9" fill="#E6AE93"/>
<circle cx="1662.8" cy="2500.2" r="5.9" fill="#AC4FA6"/>
<circle cx="1572" cy="2515.3" r="5.9" fill="#DBA6A0"/>
<circle cx="1583.2" cy="2519.7" r="5.9" fill="#E3AD94"/>
<circle cx="1736.6" cy="2525.6" r="5.9" fill="#A5A34F"/>
<circle cx="1492.3" cy="2536.2" r="5.9" fill="#AC4FA6"/>
<circle cx="1628.9" cy="2556.9" r="5.9" fill="#CFA09A"/>
<circle cx="1634.5" cy="2551" r="5.9" fill="#C468B4"/>
<circle cx="1566.1" cy="2551.3" r="5.9" fill="#C9B0D4"/>
<circle cx="1674.3" cy="2553.9" r="5.9" fill="#C468B4"/>
<circle cx="1839.2" cy="2552.7" r="5.9" fill="#8A5A1E"/>
<circle cx="1543.4" cy="2555.7" r="5.9" fill="#C9B0D4"/>
<circle cx="1526.3" cy="2566.3" r="5.9" fill="#9A5F5A"/>
<circle cx="1532.2" cy="2563.7" r="5.9" fill="#2FBAB5"/>
<circle cx="1680" cy="2563.9" r="5.9" fill="#A5A34F"/>
<circle cx="1600.3" cy="2570.1" r="5.9" fill="#B9C6E0"/>
<circle cx="1685.6" cy="2571.3" r="5.9" fill="#DBA6A0"/>
<circle cx="1810.9" cy="2569.3" r="5.9" fill="#E0BCCB"/>
<circle cx="1782.3" cy="2575.5" r="5.9" fill="#9A6A30"/>
<circle cx="1765.2" cy="2576.6" r="5.9" fill="#E0BCCB"/>
<circle cx="1520.7" cy="2581.7" r="5.9" fill="#D08A22"/>
<circle cx="1560.5" cy="2581.9" r="5.9" fill="#DDD999"/>
<circle cx="1657.2" cy="2586.7" r="5.9" fill="#A5A340"/>
<circle cx="1497.9" cy="2590.5" r="5.9" fill="#CDAADB"/>
<circle cx="1497.9" cy="2597.9" r="5.9" fill="#B9C6E0"/>
<circle cx="1497.9" cy="2600.2" r="5.9" fill="#DCCB72"/>
<circle cx="1503.6" cy="2607.6" r="5.9" fill="#C468B4"/>
<line x1="1492.3" y1="2541.8" x2="1839.2" y2="2539.8" stroke="#000" stroke-width="2.2" stroke-linecap="butt"/>
<line x1="1475.2" y1="2346" x2="1475.2" y2="2621.35" stroke="#333" stroke-width="2.1" stroke-linecap="butt"/>
<line x1="1474.15" y1="2620.3" x2="1856.7" y2="2620.3" stroke="#333" stroke-width="2.1" stroke-linecap="butt"/>
<line x1="1492.3" y1="2620.3" x2="1492.3" y2="2624.1" stroke="#333" stroke-width="1.6" stroke-linecap="butt"/>
<text transform="translate(1492.3,2639.2) scale(1.06,1)" font-size="16.5" text-anchor="middle">0</text>
<line x1="1605.9" y1="2620.3" x2="1605.9" y2="2624.1" stroke="#333" stroke-width="1.6" stroke-linecap="butt"/>
<text transform="translate(1605.9,2639.2) scale(1.06,1)" font-size="16.5" text-anchor="middle">20</text>
<line x1="1719.5" y1="2620.3" x2="1719.5" y2="2624.1" stroke="#333" stroke-width="1.6" stroke-linecap="butt"/>
<text transform="translate(1719.5,2639.2) scale(1.06,1)" font-size="16.5" text-anchor="middle">40</text>
<line x1="1833.6" y1="2620.3" x2="1833.6" y2="2624.1" stroke="#333" stroke-width="1.6" stroke-linecap="butt"/>
<text transform="translate(1833.6,2639.2) scale(1.06,1)" font-size="16.5" text-anchor="middle">60</text>
<line x1="1471.4" y1="2357.8" x2="1475.2" y2="2357.8" stroke="#333" stroke-width="1.6" stroke-linecap="butt"/>
<text transform="translate(1468.9,2363.9)" font-size="17.6" text-anchor="end">1000</text>
<line x1="1471.4" y1="2423.8" x2="1475.2" y2="2423.8" stroke="#333" stroke-width="1.6" stroke-linecap="butt"/>
<text transform="translate(1468.9,2429.9)" font-size="17.6" text-anchor="end">750</text>
<line x1="1471.4" y1="2489.9" x2="1475.2" y2="2489.9" stroke="#333" stroke-width="1.6" stroke-linecap="butt"/>
<text transform="translate(1468.9,2496)" font-size="17.6" text-anchor="end">500</text>
<line x1="1471.4" y1="2556" x2="1475.2" y2="2556" stroke="#333" stroke-width="1.6" stroke-linecap="butt"/>
<text transform="translate(1468.9,2562.1)" font-size="17.6" text-anchor="end">250</text>
<text transform="translate(1690.7,2667.5) scale(1.12,1)" font-size="20.6" text-anchor="middle">Days from intubation</text>
<text transform="translate(1419.2,2457.9) scale(1.05,1) rotate(-90)" font-size="22.8" text-anchor="middle">CD8<tspan font-size="12.54" dy="-6">+</tspan><tspan dy="6"> MFI HLA−DR</tspan></text>
<text transform="translate(1524.2,2363.4) scale(0.96,1)" font-size="22.5"><tspan font-style="italic">R</tspan> = 0.18, <tspan font-style="italic">p</tspan> = 0.31</text>
<text transform="translate(19,2316.5) scale(0.84,1)" font-size="37" font-weight="bold">g</text>
</svg>
</body></html>
